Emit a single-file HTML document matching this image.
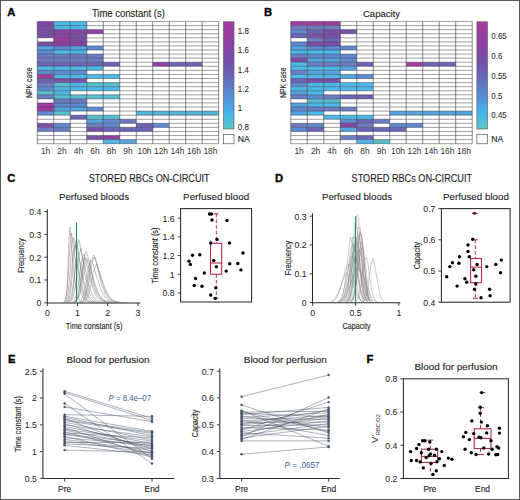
<!DOCTYPE html>
<html><head><meta charset="utf-8"><style>
html,body{margin:0;padding:0;background:#fff;}
svg{display:block;font-family:"Liberation Sans", sans-serif;}
</style></head><body>
<svg width="520" height="500" viewBox="0 0 520 500">
<rect x="0" y="0" width="520" height="500" fill="#fff"/>
<text x="7.20" y="16.40" font-size="11.2" text-anchor="start" fill="#000" stroke="#000" stroke-width="0.35" font-weight="bold" >A</text>
<text x="128.40" y="16.80" font-size="10.200000000000001" text-anchor="middle" fill="#222222" stroke="#222222" stroke-width="0.12" font-weight="normal" textLength="73" lengthAdjust="spacingAndGlyphs" >Time constant (s)</text>
<rect x="37.30" y="21.50" width="16.49" height="4.073" fill="#8c42a4"/>
<rect x="53.79" y="21.50" width="16.49" height="4.073" fill="#4cb9e8"/>
<rect x="70.28" y="21.50" width="16.49" height="4.073" fill="#4cb9e8"/>
<rect x="37.30" y="25.57" width="16.49" height="4.073" fill="#7c4ea8"/>
<rect x="53.79" y="25.57" width="16.49" height="4.073" fill="#4cb9e8"/>
<rect x="70.28" y="25.57" width="16.49" height="4.073" fill="#4cb9e8"/>
<rect x="37.30" y="29.65" width="16.49" height="4.073" fill="#7c4ea8"/>
<rect x="53.79" y="29.65" width="16.49" height="4.073" fill="#8c42a4"/>
<rect x="70.28" y="29.65" width="16.49" height="4.073" fill="#8c42a4"/>
<rect x="86.77" y="29.65" width="16.49" height="4.073" fill="#8c42a4"/>
<rect x="37.30" y="33.72" width="16.49" height="4.073" fill="#7c4ea8"/>
<rect x="53.79" y="33.72" width="16.49" height="4.073" fill="#8c42a4"/>
<rect x="70.28" y="33.72" width="16.49" height="4.073" fill="#7c4ea8"/>
<rect x="53.79" y="37.79" width="16.49" height="4.073" fill="#a23c9e"/>
<rect x="70.28" y="37.79" width="16.49" height="4.073" fill="#7c4ea8"/>
<rect x="37.30" y="41.87" width="16.49" height="4.073" fill="#7c4ea8"/>
<rect x="53.79" y="41.87" width="16.49" height="4.073" fill="#8c42a4"/>
<rect x="70.28" y="41.87" width="16.49" height="4.073" fill="#8c42a4"/>
<rect x="37.30" y="45.94" width="16.49" height="4.073" fill="#54a4de"/>
<rect x="53.79" y="45.94" width="16.49" height="4.073" fill="#5e8ad2"/>
<rect x="70.28" y="45.94" width="16.49" height="4.073" fill="#54a4de"/>
<rect x="86.77" y="45.94" width="16.49" height="4.073" fill="#5e8ad2"/>
<rect x="37.30" y="50.01" width="16.49" height="4.073" fill="#5e8ad2"/>
<rect x="53.79" y="50.01" width="16.49" height="4.073" fill="#4cb9e8"/>
<rect x="70.28" y="50.01" width="16.49" height="4.073" fill="#4cb9e8"/>
<rect x="37.30" y="54.08" width="16.49" height="4.073" fill="#6e7cc4"/>
<rect x="53.79" y="54.08" width="16.49" height="4.073" fill="#6e7cc4"/>
<rect x="70.28" y="54.08" width="16.49" height="4.073" fill="#6e7cc4"/>
<rect x="86.77" y="54.08" width="16.49" height="4.073" fill="#6e7cc4"/>
<rect x="37.30" y="58.16" width="16.49" height="4.073" fill="#6e7cc4"/>
<rect x="53.79" y="58.16" width="16.49" height="4.073" fill="#6e7cc4"/>
<rect x="70.28" y="58.16" width="16.49" height="4.073" fill="#6e7cc4"/>
<rect x="86.77" y="58.16" width="16.49" height="4.073" fill="#6e7cc4"/>
<rect x="37.30" y="62.23" width="16.49" height="4.073" fill="#6c64b6"/>
<rect x="53.79" y="62.23" width="16.49" height="4.073" fill="#6c64b6"/>
<rect x="70.28" y="62.23" width="16.49" height="4.073" fill="#6c64b6"/>
<rect x="86.77" y="62.23" width="16.49" height="4.073" fill="#6c64b6"/>
<rect x="103.26" y="62.23" width="16.49" height="4.073" fill="#6c64b6"/>
<rect x="152.73" y="62.23" width="16.49" height="4.073" fill="#8c42a4"/>
<rect x="169.22" y="62.23" width="16.49" height="4.073" fill="#6c64b6"/>
<rect x="185.71" y="62.23" width="16.49" height="4.073" fill="#6c64b6"/>
<rect x="37.30" y="66.30" width="16.49" height="4.073" fill="#4cb9e8"/>
<rect x="53.79" y="66.30" width="16.49" height="4.073" fill="#4cb9e8"/>
<rect x="70.28" y="66.30" width="16.49" height="4.073" fill="#4cb9e8"/>
<rect x="86.77" y="66.30" width="16.49" height="4.073" fill="#4cb9e8"/>
<rect x="37.30" y="70.38" width="16.49" height="4.073" fill="#5e8ad2"/>
<rect x="53.79" y="70.38" width="16.49" height="4.073" fill="#5e8ad2"/>
<rect x="70.28" y="70.38" width="16.49" height="4.073" fill="#5e8ad2"/>
<rect x="37.30" y="74.45" width="16.49" height="4.073" fill="#a23c9e"/>
<rect x="53.79" y="74.45" width="16.49" height="4.073" fill="#4cb9e8"/>
<rect x="70.28" y="74.45" width="16.49" height="4.073" fill="#4cb9e8"/>
<rect x="86.77" y="74.45" width="16.49" height="4.073" fill="#4cb9e8"/>
<rect x="103.26" y="74.45" width="16.49" height="4.073" fill="#4cb9e8"/>
<rect x="37.30" y="78.52" width="16.49" height="4.073" fill="#6c64b6"/>
<rect x="53.79" y="78.52" width="16.49" height="4.073" fill="#7c4ea8"/>
<rect x="70.28" y="78.52" width="16.49" height="4.073" fill="#7c4ea8"/>
<rect x="37.30" y="82.59" width="16.49" height="4.073" fill="#6e7cc4"/>
<rect x="53.79" y="82.59" width="16.49" height="4.073" fill="#58c0cc"/>
<rect x="70.28" y="82.59" width="16.49" height="4.073" fill="#4cb9e8"/>
<rect x="86.77" y="82.59" width="16.49" height="4.073" fill="#58c0cc"/>
<rect x="103.26" y="82.59" width="16.49" height="4.073" fill="#58c0cc"/>
<rect x="37.30" y="86.67" width="16.49" height="4.073" fill="#5e8ad2"/>
<rect x="53.79" y="86.67" width="16.49" height="4.073" fill="#4cb9e8"/>
<rect x="70.28" y="86.67" width="16.49" height="4.073" fill="#4cb9e8"/>
<rect x="86.77" y="86.67" width="16.49" height="4.073" fill="#4cb9e8"/>
<rect x="103.26" y="86.67" width="16.49" height="4.073" fill="#4cb9e8"/>
<rect x="37.30" y="90.74" width="16.49" height="4.073" fill="#58c0cc"/>
<rect x="53.79" y="90.74" width="16.49" height="4.073" fill="#4cb9e8"/>
<rect x="37.30" y="94.81" width="16.49" height="4.073" fill="#6e7cc4"/>
<rect x="53.79" y="94.81" width="16.49" height="4.073" fill="#58c0cc"/>
<rect x="70.28" y="94.81" width="16.49" height="4.073" fill="#58c0cc"/>
<rect x="86.77" y="94.81" width="16.49" height="4.073" fill="#58c0cc"/>
<rect x="103.26" y="94.81" width="16.49" height="4.073" fill="#58c0cc"/>
<rect x="53.79" y="98.89" width="16.49" height="4.073" fill="#6e7cc4"/>
<rect x="70.28" y="98.89" width="16.49" height="4.073" fill="#6e7cc4"/>
<rect x="37.30" y="102.96" width="16.49" height="4.073" fill="#a23c9e"/>
<rect x="53.79" y="102.96" width="16.49" height="4.073" fill="#5e8ad2"/>
<rect x="70.28" y="102.96" width="16.49" height="4.073" fill="#5e8ad2"/>
<rect x="37.30" y="107.03" width="16.49" height="4.073" fill="#a23c9e"/>
<rect x="53.79" y="107.03" width="16.49" height="4.073" fill="#54a4de"/>
<rect x="70.28" y="107.03" width="16.49" height="4.073" fill="#54a4de"/>
<rect x="86.77" y="107.03" width="16.49" height="4.073" fill="#5e8ad2"/>
<rect x="37.30" y="111.11" width="16.49" height="4.073" fill="#5e8ad2"/>
<rect x="53.79" y="111.11" width="16.49" height="4.073" fill="#58c0cc"/>
<rect x="136.24" y="111.11" width="16.49" height="4.073" fill="#55b6da"/>
<rect x="152.73" y="111.11" width="16.49" height="4.073" fill="#55b6da"/>
<rect x="169.22" y="111.11" width="16.49" height="4.073" fill="#55b6da"/>
<rect x="185.71" y="111.11" width="16.49" height="4.073" fill="#55b6da"/>
<rect x="202.20" y="111.11" width="16.49" height="4.073" fill="#55b6da"/>
<rect x="70.28" y="115.18" width="16.49" height="4.073" fill="#6c64b6"/>
<rect x="86.77" y="115.18" width="16.49" height="4.073" fill="#58c0cc"/>
<rect x="103.26" y="115.18" width="16.49" height="4.073" fill="#58c0cc"/>
<rect x="86.77" y="119.25" width="16.49" height="4.073" fill="#54a4de"/>
<rect x="103.26" y="119.25" width="16.49" height="4.073" fill="#5e8ad2"/>
<rect x="119.75" y="119.25" width="16.49" height="4.073" fill="#6e7cc4"/>
<rect x="37.30" y="123.33" width="16.49" height="4.073" fill="#7c4ea8"/>
<rect x="53.79" y="123.33" width="16.49" height="4.073" fill="#5e8ad2"/>
<rect x="86.77" y="123.33" width="16.49" height="4.073" fill="#6e7cc4"/>
<rect x="103.26" y="123.33" width="16.49" height="4.073" fill="#5e8ad2"/>
<rect x="136.24" y="123.33" width="16.49" height="4.073" fill="#6c64b6"/>
<rect x="152.73" y="123.33" width="16.49" height="4.073" fill="#5e8ad2"/>
<rect x="37.30" y="127.40" width="16.49" height="4.073" fill="#6e7cc4"/>
<rect x="53.79" y="127.40" width="16.49" height="4.073" fill="#6e7cc4"/>
<rect x="86.77" y="127.40" width="16.49" height="4.073" fill="#7c4ea8"/>
<rect x="103.26" y="127.40" width="16.49" height="4.073" fill="#6c64b6"/>
<rect x="119.75" y="127.40" width="16.49" height="4.073" fill="#6c64b6"/>
<rect x="136.24" y="127.40" width="16.49" height="4.073" fill="#6c64b6"/>
<rect x="86.77" y="135.54" width="16.49" height="4.073" fill="#7c4ea8"/>
<rect x="103.26" y="135.54" width="16.49" height="4.073" fill="#8c42a4"/>
<rect x="103.26" y="139.62" width="16.49" height="4.073" fill="#4cb9e8"/>
<rect x="119.75" y="139.62" width="16.49" height="4.073" fill="#54a4de"/>
<path d="M37.30 21.50H218.69 M37.30 25.57H218.69 M37.30 29.65H218.69 M37.30 33.72H218.69 M37.30 37.79H218.69 M37.30 41.87H218.69 M37.30 45.94H218.69 M37.30 50.01H218.69 M37.30 54.08H218.69 M37.30 58.16H218.69 M37.30 62.23H218.69 M37.30 66.30H218.69 M37.30 70.38H218.69 M37.30 74.45H218.69 M37.30 78.52H218.69 M37.30 82.59H218.69 M37.30 86.67H218.69 M37.30 90.74H218.69 M37.30 94.81H218.69 M37.30 98.89H218.69 M37.30 102.96H218.69 M37.30 107.03H218.69 M37.30 111.11H218.69 M37.30 115.18H218.69 M37.30 119.25H218.69 M37.30 123.33H218.69 M37.30 127.40H218.69 M37.30 131.47H218.69 M37.30 135.54H218.69 M37.30 139.62H218.69 M37.30 143.69H218.69" stroke="#2a2a38" stroke-width="0.45" fill="none"/>
<path d="M37.30 21.50V143.69 M53.79 21.50V143.69 M70.28 21.50V143.69 M86.77 21.50V143.69 M103.26 21.50V143.69 M119.75 21.50V143.69 M136.24 21.50V143.69 M152.73 21.50V143.69 M169.22 21.50V143.69 M185.71 21.50V143.69 M202.20 21.50V143.69 M218.69 21.50V143.69" stroke="#3a3a3a" stroke-width="0.6" fill="none"/>
<text x="45.54" y="153.70" font-size="8.4" text-anchor="middle" fill="#333" stroke="#333" stroke-width="0.03" font-weight="normal" >1h</text>
<text x="62.03" y="153.70" font-size="8.4" text-anchor="middle" fill="#333" stroke="#333" stroke-width="0.03" font-weight="normal" >2h</text>
<text x="78.52" y="153.70" font-size="8.4" text-anchor="middle" fill="#333" stroke="#333" stroke-width="0.03" font-weight="normal" >4h</text>
<text x="95.01" y="153.70" font-size="8.4" text-anchor="middle" fill="#333" stroke="#333" stroke-width="0.03" font-weight="normal" >6h</text>
<text x="111.50" y="153.70" font-size="8.4" text-anchor="middle" fill="#333" stroke="#333" stroke-width="0.03" font-weight="normal" >8h</text>
<text x="127.99" y="153.70" font-size="8.4" text-anchor="middle" fill="#333" stroke="#333" stroke-width="0.03" font-weight="normal" >9h</text>
<text x="144.48" y="153.70" font-size="8.4" text-anchor="middle" fill="#333" stroke="#333" stroke-width="0.03" font-weight="normal" >10h</text>
<text x="160.97" y="153.70" font-size="8.4" text-anchor="middle" fill="#333" stroke="#333" stroke-width="0.03" font-weight="normal" >12h</text>
<text x="177.46" y="153.70" font-size="8.4" text-anchor="middle" fill="#333" stroke="#333" stroke-width="0.03" font-weight="normal" >14h</text>
<text x="193.95" y="153.70" font-size="8.4" text-anchor="middle" fill="#333" stroke="#333" stroke-width="0.03" font-weight="normal" >16h</text>
<text x="210.44" y="153.70" font-size="8.4" text-anchor="middle" fill="#333" stroke="#333" stroke-width="0.03" font-weight="normal" >18h</text>
<text transform="translate(32.30 82.70) rotate(-90)" x="0" y="0" font-size="9.6" text-anchor="middle" fill="#222222" stroke="#222222" stroke-width="0.12" textLength="30.5" lengthAdjust="spacingAndGlyphs">NPK case</text>
<defs><linearGradient id="cbA" x1="0" y1="0" x2="0" y2="1"><stop offset="0" stop-color="#a63a9e"/><stop offset="0.2" stop-color="#8e40a4"/><stop offset="0.38" stop-color="#7450aa"/><stop offset="0.55" stop-color="#6470bc"/><stop offset="0.7" stop-color="#5590d6"/><stop offset="0.85" stop-color="#42b6e8"/><stop offset="1" stop-color="#62c4c6"/></linearGradient></defs>
<rect x="223.40" y="21.8" width="10.6" height="107.2" fill="url(#cbA)" stroke="#555" stroke-width="0.6"/>
<rect x="223.40" y="134.6" width="10.6" height="9.2" fill="#fff" stroke="#3a3a3a" stroke-width="0.6"/>
<text x="237.80" y="34.10" font-size="8.7" text-anchor="start" fill="#222222" stroke="#222222" stroke-width="0.05" font-weight="normal" textLength="10.98" lengthAdjust="spacingAndGlyphs" >1.8</text>
<text x="237.80" y="53.30" font-size="8.7" text-anchor="start" fill="#222222" stroke="#222222" stroke-width="0.05" font-weight="normal" textLength="10.98" lengthAdjust="spacingAndGlyphs" >1.6</text>
<text x="237.80" y="72.50" font-size="8.7" text-anchor="start" fill="#222222" stroke="#222222" stroke-width="0.05" font-weight="normal" textLength="10.98" lengthAdjust="spacingAndGlyphs" >1.4</text>
<text x="237.80" y="91.70" font-size="8.7" text-anchor="start" fill="#222222" stroke="#222222" stroke-width="0.05" font-weight="normal" textLength="10.98" lengthAdjust="spacingAndGlyphs" >1.2</text>
<text x="237.80" y="110.90" font-size="8.7" text-anchor="start" fill="#222222" stroke="#222222" stroke-width="0.05" font-weight="normal" textLength="4.39" lengthAdjust="spacingAndGlyphs" >1</text>
<text x="237.80" y="130.10" font-size="8.7" text-anchor="start" fill="#222222" stroke="#222222" stroke-width="0.05" font-weight="normal" textLength="10.98" lengthAdjust="spacingAndGlyphs" >0.8</text>
<text x="237.70" y="141.80" font-size="8.6" text-anchor="start" fill="#222222" stroke="#222222" stroke-width="0.12" font-weight="normal" >NA</text>
<text x="264.10" y="16.40" font-size="11.2" text-anchor="start" fill="#000" stroke="#000" stroke-width="0.35" font-weight="bold" >B</text>
<text x="381.50" y="16.60" font-size="9.9" text-anchor="middle" fill="#222222" stroke="#222222" stroke-width="0.12" font-weight="normal" textLength="37" lengthAdjust="spacingAndGlyphs" >Capacity</text>
<rect x="290.80" y="21.50" width="16.49" height="4.073" fill="#a23c9e"/>
<rect x="307.29" y="21.50" width="16.49" height="4.073" fill="#a23c9e"/>
<rect x="323.78" y="21.50" width="16.49" height="4.073" fill="#a23c9e"/>
<rect x="290.80" y="25.57" width="16.49" height="4.073" fill="#6e7cc4"/>
<rect x="307.29" y="25.57" width="16.49" height="4.073" fill="#6e7cc4"/>
<rect x="323.78" y="25.57" width="16.49" height="4.073" fill="#6e7cc4"/>
<rect x="290.80" y="29.65" width="16.49" height="4.073" fill="#5e8ad2"/>
<rect x="307.29" y="29.65" width="16.49" height="4.073" fill="#6c64b6"/>
<rect x="323.78" y="29.65" width="16.49" height="4.073" fill="#7c4ea8"/>
<rect x="340.27" y="29.65" width="16.49" height="4.073" fill="#7c4ea8"/>
<rect x="290.80" y="33.72" width="16.49" height="4.073" fill="#6c64b6"/>
<rect x="307.29" y="33.72" width="16.49" height="4.073" fill="#7c4ea8"/>
<rect x="323.78" y="33.72" width="16.49" height="4.073" fill="#7c4ea8"/>
<rect x="307.29" y="37.79" width="16.49" height="4.073" fill="#6e7cc4"/>
<rect x="323.78" y="37.79" width="16.49" height="4.073" fill="#6c64b6"/>
<rect x="290.80" y="41.87" width="16.49" height="4.073" fill="#5e8ad2"/>
<rect x="307.29" y="41.87" width="16.49" height="4.073" fill="#7c4ea8"/>
<rect x="323.78" y="41.87" width="16.49" height="4.073" fill="#7c4ea8"/>
<rect x="290.80" y="45.94" width="16.49" height="4.073" fill="#54a4de"/>
<rect x="307.29" y="45.94" width="16.49" height="4.073" fill="#5e8ad2"/>
<rect x="323.78" y="45.94" width="16.49" height="4.073" fill="#5e8ad2"/>
<rect x="340.27" y="45.94" width="16.49" height="4.073" fill="#5e8ad2"/>
<rect x="290.80" y="50.01" width="16.49" height="4.073" fill="#4cb9e8"/>
<rect x="307.29" y="50.01" width="16.49" height="4.073" fill="#4cb9e8"/>
<rect x="323.78" y="50.01" width="16.49" height="4.073" fill="#4cb9e8"/>
<rect x="290.80" y="54.08" width="16.49" height="4.073" fill="#6e7cc4"/>
<rect x="307.29" y="54.08" width="16.49" height="4.073" fill="#5e8ad2"/>
<rect x="323.78" y="54.08" width="16.49" height="4.073" fill="#5e8ad2"/>
<rect x="340.27" y="54.08" width="16.49" height="4.073" fill="#5e8ad2"/>
<rect x="290.80" y="58.16" width="16.49" height="4.073" fill="#7c4ea8"/>
<rect x="307.29" y="58.16" width="16.49" height="4.073" fill="#54a4de"/>
<rect x="323.78" y="58.16" width="16.49" height="4.073" fill="#54a4de"/>
<rect x="340.27" y="58.16" width="16.49" height="4.073" fill="#5e8ad2"/>
<rect x="290.80" y="62.23" width="16.49" height="4.073" fill="#4cb9e8"/>
<rect x="307.29" y="62.23" width="16.49" height="4.073" fill="#6e7cc4"/>
<rect x="323.78" y="62.23" width="16.49" height="4.073" fill="#6e7cc4"/>
<rect x="340.27" y="62.23" width="16.49" height="4.073" fill="#6e7cc4"/>
<rect x="356.76" y="62.23" width="16.49" height="4.073" fill="#6c64b6"/>
<rect x="406.23" y="62.23" width="16.49" height="4.073" fill="#a23c9e"/>
<rect x="422.72" y="62.23" width="16.49" height="4.073" fill="#6c64b6"/>
<rect x="439.21" y="62.23" width="16.49" height="4.073" fill="#6c64b6"/>
<rect x="290.80" y="66.30" width="16.49" height="4.073" fill="#4cb9e8"/>
<rect x="307.29" y="66.30" width="16.49" height="4.073" fill="#4cb9e8"/>
<rect x="323.78" y="66.30" width="16.49" height="4.073" fill="#4cb9e8"/>
<rect x="340.27" y="66.30" width="16.49" height="4.073" fill="#54a4de"/>
<rect x="290.80" y="70.38" width="16.49" height="4.073" fill="#6e7cc4"/>
<rect x="307.29" y="70.38" width="16.49" height="4.073" fill="#54a4de"/>
<rect x="323.78" y="70.38" width="16.49" height="4.073" fill="#54a4de"/>
<rect x="290.80" y="74.45" width="16.49" height="4.073" fill="#4cb9e8"/>
<rect x="307.29" y="74.45" width="16.49" height="4.073" fill="#4cb9e8"/>
<rect x="323.78" y="74.45" width="16.49" height="4.073" fill="#4cb9e8"/>
<rect x="340.27" y="74.45" width="16.49" height="4.073" fill="#54a4de"/>
<rect x="356.76" y="74.45" width="16.49" height="4.073" fill="#5e8ad2"/>
<rect x="290.80" y="78.52" width="16.49" height="4.073" fill="#6c64b6"/>
<rect x="307.29" y="78.52" width="16.49" height="4.073" fill="#7c4ea8"/>
<rect x="323.78" y="78.52" width="16.49" height="4.073" fill="#7c4ea8"/>
<rect x="290.80" y="82.59" width="16.49" height="4.073" fill="#5e8ad2"/>
<rect x="307.29" y="82.59" width="16.49" height="4.073" fill="#4cb9e8"/>
<rect x="323.78" y="82.59" width="16.49" height="4.073" fill="#4cb9e8"/>
<rect x="340.27" y="82.59" width="16.49" height="4.073" fill="#4cb9e8"/>
<rect x="356.76" y="82.59" width="16.49" height="4.073" fill="#4cb9e8"/>
<rect x="290.80" y="86.67" width="16.49" height="4.073" fill="#4cb9e8"/>
<rect x="307.29" y="86.67" width="16.49" height="4.073" fill="#4cb9e8"/>
<rect x="323.78" y="86.67" width="16.49" height="4.073" fill="#4cb9e8"/>
<rect x="340.27" y="86.67" width="16.49" height="4.073" fill="#4cb9e8"/>
<rect x="356.76" y="86.67" width="16.49" height="4.073" fill="#4cb9e8"/>
<rect x="290.80" y="90.74" width="16.49" height="4.073" fill="#54a4de"/>
<rect x="307.29" y="90.74" width="16.49" height="4.073" fill="#4cb9e8"/>
<rect x="290.80" y="94.81" width="16.49" height="4.073" fill="#6e7cc4"/>
<rect x="307.29" y="94.81" width="16.49" height="4.073" fill="#5e8ad2"/>
<rect x="323.78" y="94.81" width="16.49" height="4.073" fill="#6e7cc4"/>
<rect x="340.27" y="94.81" width="16.49" height="4.073" fill="#6c64b6"/>
<rect x="356.76" y="94.81" width="16.49" height="4.073" fill="#6c64b6"/>
<rect x="307.29" y="98.89" width="16.49" height="4.073" fill="#58c0cc"/>
<rect x="323.78" y="98.89" width="16.49" height="4.073" fill="#58c0cc"/>
<rect x="290.80" y="102.96" width="16.49" height="4.073" fill="#54a4de"/>
<rect x="307.29" y="102.96" width="16.49" height="4.073" fill="#4cb9e8"/>
<rect x="323.78" y="102.96" width="16.49" height="4.073" fill="#4cb9e8"/>
<rect x="290.80" y="107.03" width="16.49" height="4.073" fill="#5e8ad2"/>
<rect x="307.29" y="107.03" width="16.49" height="4.073" fill="#6e7cc4"/>
<rect x="323.78" y="107.03" width="16.49" height="4.073" fill="#6e7cc4"/>
<rect x="340.27" y="107.03" width="16.49" height="4.073" fill="#6e7cc4"/>
<rect x="290.80" y="111.11" width="16.49" height="4.073" fill="#54a4de"/>
<rect x="307.29" y="111.11" width="16.49" height="4.073" fill="#4cb9e8"/>
<rect x="389.74" y="111.11" width="16.49" height="4.073" fill="#54a4de"/>
<rect x="406.23" y="111.11" width="16.49" height="4.073" fill="#54a4de"/>
<rect x="422.72" y="111.11" width="16.49" height="4.073" fill="#54a4de"/>
<rect x="439.21" y="111.11" width="16.49" height="4.073" fill="#54a4de"/>
<rect x="455.70" y="111.11" width="16.49" height="4.073" fill="#54a4de"/>
<rect x="323.78" y="115.18" width="16.49" height="4.073" fill="#4cb9e8"/>
<rect x="340.27" y="115.18" width="16.49" height="4.073" fill="#4cb9e8"/>
<rect x="356.76" y="115.18" width="16.49" height="4.073" fill="#4cb9e8"/>
<rect x="340.27" y="119.25" width="16.49" height="4.073" fill="#5e8ad2"/>
<rect x="356.76" y="119.25" width="16.49" height="4.073" fill="#6c64b6"/>
<rect x="373.25" y="119.25" width="16.49" height="4.073" fill="#6e7cc4"/>
<rect x="290.80" y="123.33" width="16.49" height="4.073" fill="#6e7cc4"/>
<rect x="307.29" y="123.33" width="16.49" height="4.073" fill="#5e8ad2"/>
<rect x="340.27" y="123.33" width="16.49" height="4.073" fill="#8c42a4"/>
<rect x="356.76" y="123.33" width="16.49" height="4.073" fill="#6e7cc4"/>
<rect x="389.74" y="123.33" width="16.49" height="4.073" fill="#5e8ad2"/>
<rect x="406.23" y="123.33" width="16.49" height="4.073" fill="#5e8ad2"/>
<rect x="290.80" y="127.40" width="16.49" height="4.073" fill="#5e8ad2"/>
<rect x="307.29" y="127.40" width="16.49" height="4.073" fill="#6c64b6"/>
<rect x="340.27" y="127.40" width="16.49" height="4.073" fill="#54a4de"/>
<rect x="356.76" y="127.40" width="16.49" height="4.073" fill="#6c64b6"/>
<rect x="373.25" y="127.40" width="16.49" height="4.073" fill="#6c64b6"/>
<rect x="389.74" y="127.40" width="16.49" height="4.073" fill="#6c64b6"/>
<rect x="340.27" y="135.54" width="16.49" height="4.073" fill="#6e7cc4"/>
<rect x="356.76" y="135.54" width="16.49" height="4.073" fill="#6c64b6"/>
<rect x="356.76" y="139.62" width="16.49" height="4.073" fill="#4cb9e8"/>
<rect x="373.25" y="139.62" width="16.49" height="4.073" fill="#58c0cc"/>
<path d="M290.80 21.50H472.19 M290.80 25.57H472.19 M290.80 29.65H472.19 M290.80 33.72H472.19 M290.80 37.79H472.19 M290.80 41.87H472.19 M290.80 45.94H472.19 M290.80 50.01H472.19 M290.80 54.08H472.19 M290.80 58.16H472.19 M290.80 62.23H472.19 M290.80 66.30H472.19 M290.80 70.38H472.19 M290.80 74.45H472.19 M290.80 78.52H472.19 M290.80 82.59H472.19 M290.80 86.67H472.19 M290.80 90.74H472.19 M290.80 94.81H472.19 M290.80 98.89H472.19 M290.80 102.96H472.19 M290.80 107.03H472.19 M290.80 111.11H472.19 M290.80 115.18H472.19 M290.80 119.25H472.19 M290.80 123.33H472.19 M290.80 127.40H472.19 M290.80 131.47H472.19 M290.80 135.54H472.19 M290.80 139.62H472.19 M290.80 143.69H472.19" stroke="#2a2a38" stroke-width="0.45" fill="none"/>
<path d="M290.80 21.50V143.69 M307.29 21.50V143.69 M323.78 21.50V143.69 M340.27 21.50V143.69 M356.76 21.50V143.69 M373.25 21.50V143.69 M389.74 21.50V143.69 M406.23 21.50V143.69 M422.72 21.50V143.69 M439.21 21.50V143.69 M455.70 21.50V143.69 M472.19 21.50V143.69" stroke="#3a3a3a" stroke-width="0.6" fill="none"/>
<text x="299.05" y="153.70" font-size="8.4" text-anchor="middle" fill="#333" stroke="#333" stroke-width="0.03" font-weight="normal" >1h</text>
<text x="315.54" y="153.70" font-size="8.4" text-anchor="middle" fill="#333" stroke="#333" stroke-width="0.03" font-weight="normal" >2h</text>
<text x="332.02" y="153.70" font-size="8.4" text-anchor="middle" fill="#333" stroke="#333" stroke-width="0.03" font-weight="normal" >4h</text>
<text x="348.51" y="153.70" font-size="8.4" text-anchor="middle" fill="#333" stroke="#333" stroke-width="0.03" font-weight="normal" >6h</text>
<text x="365.00" y="153.70" font-size="8.4" text-anchor="middle" fill="#333" stroke="#333" stroke-width="0.03" font-weight="normal" >8h</text>
<text x="381.50" y="153.70" font-size="8.4" text-anchor="middle" fill="#333" stroke="#333" stroke-width="0.03" font-weight="normal" >9h</text>
<text x="397.99" y="153.70" font-size="8.4" text-anchor="middle" fill="#333" stroke="#333" stroke-width="0.03" font-weight="normal" >10h</text>
<text x="414.48" y="153.70" font-size="8.4" text-anchor="middle" fill="#333" stroke="#333" stroke-width="0.03" font-weight="normal" >12h</text>
<text x="430.97" y="153.70" font-size="8.4" text-anchor="middle" fill="#333" stroke="#333" stroke-width="0.03" font-weight="normal" >14h</text>
<text x="447.45" y="153.70" font-size="8.4" text-anchor="middle" fill="#333" stroke="#333" stroke-width="0.03" font-weight="normal" >16h</text>
<text x="463.94" y="153.70" font-size="8.4" text-anchor="middle" fill="#333" stroke="#333" stroke-width="0.03" font-weight="normal" >18h</text>
<text transform="translate(285.80 82.70) rotate(-90)" x="0" y="0" font-size="9.6" text-anchor="middle" fill="#222222" stroke="#222222" stroke-width="0.12" textLength="30.5" lengthAdjust="spacingAndGlyphs">NPK case</text>
<defs><linearGradient id="cbB" x1="0" y1="0" x2="0" y2="1"><stop offset="0" stop-color="#a63a9e"/><stop offset="0.2" stop-color="#8e40a4"/><stop offset="0.38" stop-color="#7450aa"/><stop offset="0.55" stop-color="#6470bc"/><stop offset="0.7" stop-color="#5590d6"/><stop offset="0.85" stop-color="#42b6e8"/><stop offset="1" stop-color="#62c4c6"/></linearGradient></defs>
<rect x="476.90" y="21.8" width="10.6" height="107.2" fill="url(#cbB)" stroke="#555" stroke-width="0.6"/>
<rect x="476.90" y="134.6" width="10.6" height="9.2" fill="#fff" stroke="#3a3a3a" stroke-width="0.6"/>
<text x="491.30" y="39.40" font-size="8.7" text-anchor="start" fill="#222222" stroke="#222222" stroke-width="0.05" font-weight="normal" textLength="15.37" lengthAdjust="spacingAndGlyphs" >0.65</text>
<text x="491.30" y="59.10" font-size="8.7" text-anchor="start" fill="#222222" stroke="#222222" stroke-width="0.05" font-weight="normal" textLength="10.98" lengthAdjust="spacingAndGlyphs" >0.6</text>
<text x="491.30" y="78.80" font-size="8.7" text-anchor="start" fill="#222222" stroke="#222222" stroke-width="0.05" font-weight="normal" textLength="15.37" lengthAdjust="spacingAndGlyphs" >0.55</text>
<text x="491.30" y="98.50" font-size="8.7" text-anchor="start" fill="#222222" stroke="#222222" stroke-width="0.05" font-weight="normal" textLength="10.98" lengthAdjust="spacingAndGlyphs" >0.5</text>
<text x="491.30" y="118.20" font-size="8.7" text-anchor="start" fill="#222222" stroke="#222222" stroke-width="0.05" font-weight="normal" textLength="15.37" lengthAdjust="spacingAndGlyphs" >0.45</text>
<text x="491.20" y="141.80" font-size="8.6" text-anchor="start" fill="#222222" stroke="#222222" stroke-width="0.12" font-weight="normal" >NA</text>
<text x="7.30" y="181.90" font-size="11.2" text-anchor="start" fill="#000" stroke="#000" stroke-width="0.35" font-weight="bold" >C</text>
<text x="149.20" y="181.60" font-size="10.2" text-anchor="middle" fill="#222222" stroke="#222222" stroke-width="0.12" font-weight="normal" textLength="121" lengthAdjust="spacingAndGlyphs" >STORED RBCs ON-CIRCUIT</text>
<text x="94.00" y="199.50" font-size="9.9" text-anchor="middle" fill="#222222" stroke="#222222" stroke-width="0.12" font-weight="normal" textLength="70" lengthAdjust="spacingAndGlyphs" >Perfused bloods</text>
<text x="216.10" y="199.50" font-size="9.9" text-anchor="middle" fill="#222222" stroke="#222222" stroke-width="0.12" font-weight="normal" textLength="66" lengthAdjust="spacingAndGlyphs" >Perfused blood</text>
<path d="M47.3 209.3V303.0H140.2" stroke="#2a2a2a" stroke-width="1.05" fill="none"/>
<path d="M44.30 302.80H47.30" stroke="#2a2a2a" stroke-width="0.9"/>
<text x="41.30" y="306.10" font-size="9.4" text-anchor="end" fill="#222222" stroke="#222222" stroke-width="0.04" font-weight="normal" textLength="4.84" lengthAdjust="spacingAndGlyphs" >0</text>
<path d="M44.30 280.00H47.30" stroke="#2a2a2a" stroke-width="0.9"/>
<text x="41.30" y="283.30" font-size="9.4" text-anchor="end" fill="#222222" stroke="#222222" stroke-width="0.04" font-weight="normal" textLength="12.09" lengthAdjust="spacingAndGlyphs" >0.1</text>
<path d="M44.30 257.20H47.30" stroke="#2a2a2a" stroke-width="0.9"/>
<text x="41.30" y="260.50" font-size="9.4" text-anchor="end" fill="#222222" stroke="#222222" stroke-width="0.04" font-weight="normal" textLength="12.09" lengthAdjust="spacingAndGlyphs" >0.2</text>
<path d="M44.30 234.40H47.30" stroke="#2a2a2a" stroke-width="0.9"/>
<text x="41.30" y="237.70" font-size="9.4" text-anchor="end" fill="#222222" stroke="#222222" stroke-width="0.04" font-weight="normal" textLength="12.09" lengthAdjust="spacingAndGlyphs" >0.3</text>
<path d="M44.30 211.60H47.30" stroke="#2a2a2a" stroke-width="0.9"/>
<text x="41.30" y="214.90" font-size="9.4" text-anchor="end" fill="#222222" stroke="#222222" stroke-width="0.04" font-weight="normal" textLength="12.09" lengthAdjust="spacingAndGlyphs" >0.4</text>
<path d="M47.30 303.00V306.00" stroke="#2a2a2a" stroke-width="0.9"/>
<text x="47.30" y="316.30" font-size="9.4" text-anchor="middle" fill="#222222" stroke="#222222" stroke-width="0.04" font-weight="normal" textLength="4.84" lengthAdjust="spacingAndGlyphs" >0</text>
<path d="M77.50 303.00V306.00" stroke="#2a2a2a" stroke-width="0.9"/>
<text x="77.50" y="316.30" font-size="9.4" text-anchor="middle" fill="#222222" stroke="#222222" stroke-width="0.04" font-weight="normal" textLength="4.84" lengthAdjust="spacingAndGlyphs" >1</text>
<path d="M107.60 303.00V306.00" stroke="#2a2a2a" stroke-width="0.9"/>
<text x="107.60" y="316.30" font-size="9.4" text-anchor="middle" fill="#222222" stroke="#222222" stroke-width="0.04" font-weight="normal" textLength="4.84" lengthAdjust="spacingAndGlyphs" >2</text>
<path d="M137.90 303.00V306.00" stroke="#2a2a2a" stroke-width="0.9"/>
<text x="137.90" y="316.30" font-size="9.4" text-anchor="middle" fill="#222222" stroke="#222222" stroke-width="0.04" font-weight="normal" textLength="4.84" lengthAdjust="spacingAndGlyphs" >3</text>
<path d="M64.73 302.56 L65.79 300.74 L66.85 291.74 L67.91 269.12 L68.97 238.06 L70.03 227.16 L71.09 239.58 L72.16 251.40 L73.22 264.17 L74.28 275.10 L75.34 285.06 L76.40 291.05 L77.46 295.55 L78.52 298.13 L79.58 300.08 L80.64 301.32 L81.70 301.92 L82.76 302.32 L83.82 302.55 L84.88 302.67 L85.94 302.74 M62.91 302.59 L63.97 302.00 L65.03 300.37 L66.10 296.28 L67.16 288.17 L68.22 275.68 L69.28 258.10 L70.34 242.93 L71.40 232.84 L72.46 237.66 L73.52 244.75 L74.58 254.26 L75.64 262.60 L76.70 271.38 L77.76 278.83 L78.82 283.60 L79.88 288.59 L80.94 292.61 L82.00 295.62 L83.06 297.93 L84.12 299.47 L85.18 300.54 L86.24 301.32 L87.31 301.77 L88.37 302.15 L89.43 302.37 L90.49 302.54 L91.55 302.63 L92.61 302.70 L93.67 302.74 M64.00 302.59 L65.06 302.06 L66.13 300.70 L67.19 297.27 L68.25 291.21 L69.31 281.40 L70.37 266.08 L71.43 250.08 L72.49 240.66 L73.55 237.88 L74.61 241.79 L75.67 247.03 L76.73 256.91 L77.79 267.50 L78.85 274.70 L79.91 281.46 L80.97 286.83 L82.03 290.33 L83.09 294.24 L84.15 296.55 L85.21 298.49 L86.27 299.91 L87.34 300.77 L88.40 301.52 L89.46 301.93 L90.52 302.26 L91.58 302.45 L92.64 302.58 L93.70 302.67 L94.76 302.71 L95.82 302.75 M66.00 302.60 L67.06 302.15 L68.13 301.11 L69.19 298.64 L70.25 293.55 L71.31 285.60 L72.37 275.31 L73.43 259.32 L74.49 249.65 L75.55 241.59 L76.61 238.63 L77.67 246.28 L78.73 253.52 L79.79 261.83 L80.85 268.98 L81.91 274.45 L82.97 281.05 L84.03 285.49 L85.09 289.89 L86.15 293.09 L87.21 295.38 L88.27 297.62 L89.34 299.08 L90.40 300.12 L91.46 301.04 L92.52 301.60 L93.58 301.93 L94.64 302.22 L95.70 302.44 L96.76 302.56 L97.82 302.64 L98.88 302.70 L99.94 302.74 M68.00 302.60 L69.06 302.22 L70.12 301.31 L71.19 299.38 L72.25 295.81 L73.31 289.75 L74.37 279.14 L75.43 269.07 L76.49 255.37 L77.55 247.22 L78.61 239.46 L79.67 242.45 L80.73 249.24 L81.79 256.16 L82.85 261.09 L83.91 269.68 L84.97 275.27 L86.03 280.02 L87.09 284.34 L88.15 288.67 L89.21 292.23 L90.27 294.37 L91.33 296.85 L92.40 298.47 L93.46 299.58 L94.52 300.44 L95.58 301.17 L96.64 301.64 L97.70 301.98 L98.76 302.22 L99.82 302.42 L100.88 302.54 L101.94 302.62 L103.00 302.68 L104.06 302.72 L105.12 302.75 M68.37 302.63 L69.43 302.38 L70.49 301.82 L71.55 300.68 L72.61 298.25 L73.67 294.59 L74.73 288.67 L75.79 282.51 L76.85 272.47 L77.91 263.64 L78.97 254.85 L80.03 251.62 L81.09 248.36 L82.15 255.66 L83.21 258.70 L84.28 263.52 L85.34 268.63 L86.40 274.36 L87.46 279.29 L88.52 283.47 L89.58 287.10 L90.64 290.88 L91.70 293.20 L92.76 295.24 L93.82 297.03 L94.88 298.58 L95.94 299.55 L97.00 300.37 L98.06 301.06 L99.12 301.53 L100.18 301.90 L101.24 302.15 L102.30 302.34 L103.36 302.49 L104.42 302.57 L105.49 302.64 L106.55 302.69 L107.61 302.73 L108.67 302.75 M70.67 302.65 L71.73 302.43 L72.79 301.97 L73.85 300.99 L74.91 299.47 L75.97 296.44 L77.03 292.73 L78.09 286.40 L79.15 279.37 L80.21 272.10 L81.28 263.28 L82.34 258.09 L83.40 254.70 L84.46 254.52 L85.52 260.30 L86.58 265.21 L87.64 268.80 L88.70 272.42 L89.76 277.86 L90.82 281.89 L91.88 284.41 L92.94 288.03 L94.00 291.06 L95.06 293.06 L96.12 295.43 L97.18 296.87 L98.24 298.37 L99.30 299.33 L100.36 300.08 L101.42 300.73 L102.49 301.25 L103.55 301.70 L104.61 301.97 L105.67 302.21 L106.73 302.38 L107.79 302.49 L108.85 302.57 L109.91 302.64 L110.97 302.69 L112.03 302.72 L113.09 302.75 L114.15 302.76 M71.76 302.66 L72.82 302.47 L73.88 302.08 L74.94 301.31 L76.00 299.90 L77.06 297.69 L78.12 294.40 L79.18 289.15 L80.25 282.72 L81.31 276.61 L82.37 270.53 L83.43 264.63 L84.49 257.50 L85.55 258.87 L86.61 258.47 L87.67 262.50 L88.73 267.44 L89.79 270.55 L90.85 276.66 L91.91 280.39 L92.97 283.56 L94.03 287.46 L95.09 289.45 L96.15 292.53 L97.21 294.68 L98.27 296.44 L99.33 297.59 L100.39 298.83 L101.46 299.71 L102.52 300.45 L103.58 301.01 L104.64 301.45 L105.70 301.82 L106.76 302.11 L107.82 302.29 L108.88 302.44 L109.94 302.54 L111.00 302.61 L112.06 302.66 L113.12 302.71 L114.18 302.74 L115.24 302.75 L116.30 302.77 M72.85 302.66 L73.91 302.49 L74.97 302.14 L76.03 301.52 L77.09 300.34 L78.15 298.43 L79.22 296.03 L80.28 291.53 L81.34 286.58 L82.40 281.52 L83.46 274.51 L84.52 267.88 L85.58 261.91 L86.64 260.57 L87.70 259.54 L88.76 260.97 L89.82 264.76 L90.88 268.37 L91.94 273.68 L93.00 277.25 L94.06 281.80 L95.12 284.40 L96.18 287.40 L97.24 290.34 L98.30 292.62 L99.36 294.95 L100.42 296.20 L101.49 297.57 L102.55 298.72 L103.61 299.75 L104.67 300.41 L105.73 301.05 L106.79 301.41 L107.85 301.77 L108.91 302.06 L109.97 302.27 L111.03 302.40 L112.09 302.50 L113.15 302.58 L114.21 302.65 L115.27 302.70 L116.33 302.72 L117.39 302.75 L118.45 302.76 M78.91 302.65 L79.97 302.47 L81.03 302.07 L82.09 301.42 L83.15 300.21 L84.21 298.11 L85.27 294.92 L86.34 290.43 L87.40 284.92 L88.46 277.69 L89.52 271.44 L90.58 263.22 L91.64 260.49 L92.70 256.71 L93.76 255.14 L94.82 258.68 L95.88 260.98 L96.94 265.64 L98.00 270.46 L99.06 274.13 L100.12 278.91 L101.18 283.12 L102.24 286.36 L103.30 288.80 L104.36 291.39 L105.42 294.12 L106.48 295.54 L107.55 297.02 L108.61 298.44 L109.67 299.42 L110.73 300.28 L111.79 300.83 L112.85 301.32 L113.91 301.68 L114.97 302.00 L116.03 302.17 L117.09 302.35 L118.15 302.48 L119.21 302.56 L120.27 302.63 L121.33 302.68 L122.39 302.71 L123.45 302.74 L124.51 302.76 M79.40 302.66 L80.46 302.48 L81.52 302.14 L82.58 301.59 L83.64 300.54 L84.70 299.00 L85.76 296.41 L86.82 292.59 L87.88 287.72 L88.94 282.55 L90.00 276.56 L91.06 270.54 L92.12 263.58 L93.18 258.15 L94.24 258.75 L95.30 257.09 L96.36 262.54 L97.43 265.55 L98.49 269.40 L99.55 272.33 L100.61 277.16 L101.67 280.82 L102.73 283.85 L103.79 287.63 L104.85 289.63 L105.91 292.55 L106.97 294.24 L108.03 296.08 L109.09 297.48 L110.15 298.50 L111.21 299.46 L112.27 300.23 L113.33 300.82 L114.39 301.27 L115.45 301.68 L116.51 301.95 L117.57 302.14 L118.64 302.31 L119.70 302.44 L120.76 302.53 L121.82 302.61 L122.88 302.66 L123.94 302.70 L125.00 302.73 L126.06 302.75 L127.12 302.76 M76.79 302.67 L77.85 302.51 L78.91 302.15 L79.97 301.57 L81.03 300.36 L82.09 298.55 L83.15 296.18 L84.21 292.42 L85.27 287.00 L86.34 281.86 L87.40 276.05 L88.46 268.25 L89.52 264.49 L90.58 260.31 L91.64 262.15 L92.70 263.45 L93.76 265.82 L94.82 271.29 L95.88 274.53 L96.94 277.23 L98.00 280.45 L99.06 283.78 L100.12 287.92 L101.18 290.07 L102.24 292.16 L103.30 294.33 L104.36 295.89 L105.42 297.51 L106.48 298.67 L107.55 299.55 L108.61 300.29 L109.67 300.78 L110.73 301.26 L111.79 301.63 L112.85 301.95 L113.91 302.16 L114.97 302.32 L116.03 302.43 L117.09 302.52 L118.15 302.60 L119.21 302.66 L120.27 302.70 L121.33 302.73 L122.39 302.75 L123.45 302.76 M65.22 302.62 L66.28 302.18 L67.34 300.98 L68.40 298.22 L69.46 292.62 L70.52 284.40 L71.58 270.88 L72.64 256.99 L73.70 249.47 L74.76 244.98 L75.82 248.03 L76.88 256.00 L77.94 263.89 L79.00 270.93 L80.06 276.58 L81.12 283.12 L82.18 286.64 L83.24 290.76 L84.31 294.00 L85.37 296.35 L86.43 298.29 L87.49 299.69 L88.55 300.62 L89.61 301.33 L90.67 301.77 L91.73 302.13 L92.79 302.38 L93.85 302.51 L94.91 302.62 L95.97 302.69 L97.03 302.73 L98.09 302.76 M80.49 302.68 L81.55 302.54 L82.61 302.30 L83.67 301.85 L84.73 301.09 L85.79 299.96 L86.85 298.06 L87.91 295.86 L88.97 292.38 L90.03 288.10 L91.09 284.02 L92.15 278.43 L93.21 272.91 L94.27 268.77 L95.33 267.07 L96.40 263.85 L97.46 266.07 L98.52 269.61 L99.58 271.94 L100.64 275.55 L101.70 279.02 L102.76 282.53 L103.82 284.69 L104.88 287.99 L105.94 290.42 L107.00 292.57 L108.06 294.32 L109.12 296.46 L110.18 297.48 L111.24 298.55 L112.30 299.59 L113.36 300.27 L114.42 300.90 L115.48 301.32 L116.54 301.66 L117.61 301.96 L118.67 302.16 L119.73 302.30 L120.79 302.44 L121.85 302.53 L122.91 302.60 L123.97 302.66 L125.03 302.69 L126.09 302.73 L127.15 302.75 L128.21 302.76 L129.27 302.77 M73.09 302.63 L74.15 302.42 L75.22 301.87 L76.28 300.96 L77.34 299.12 L78.40 296.30 L79.46 291.60 L80.52 285.21 L81.58 278.54 L82.64 267.98 L83.70 261.38 L84.76 254.78 L85.82 251.33 L86.88 253.30 L87.94 257.16 L89.00 260.37 L90.06 265.61 L91.12 271.26 L92.18 274.95 L93.24 280.16 L94.30 284.46 L95.36 287.49 L96.43 290.62 L97.49 292.96 L98.55 294.63 L99.61 296.58 L100.67 297.78 L101.73 298.99 L102.79 300.06 L103.85 300.57 L104.91 301.14 L105.97 301.65 L107.03 301.89 L108.09 302.16 L109.15 302.34 L110.21 302.45 L111.27 302.57 L112.33 302.63 L113.39 302.68 L114.45 302.72 L115.51 302.74 L116.57 302.76 M66.79 302.64 L67.85 302.34 L68.91 301.64 L69.97 299.98 L71.03 296.98 L72.09 292.10 L73.16 285.01 L74.22 274.87 L75.28 266.19 L76.34 257.17 L77.40 252.19 L78.46 254.64 L79.52 259.92 L80.58 264.42 L81.64 270.68 L82.70 275.44 L83.76 281.05 L84.82 284.86 L85.88 288.84 L86.94 292.26 L88.00 295.14 L89.06 297.15 L90.12 298.38 L91.18 299.62 L92.24 300.55 L93.30 301.25 L94.36 301.72 L95.43 302.03 L96.49 302.28 L97.55 302.45 L98.61 302.56 L99.67 302.64 L100.73 302.70 L101.79 302.74 L102.85 302.76" stroke="#6e6e6e" stroke-width="0.5" fill="none" stroke-opacity="0.85"/>
<path d="M76.5 222.6V302.6" stroke="#27964a" stroke-width="1"/>
<text transform="translate(23.90 255.60) rotate(-90)" x="0" y="0" font-size="8.8" text-anchor="middle" fill="#222222" stroke="#222222" stroke-width="0.12" textLength="34.5" lengthAdjust="spacingAndGlyphs">Frequency</text>
<text x="94.10" y="328.50" font-size="9.2" text-anchor="middle" fill="#222222" stroke="#222222" stroke-width="0.12" font-weight="normal" textLength="56.5" lengthAdjust="spacingAndGlyphs" >Time constant (s)</text>
<rect x="180.6" y="208.6" width="71.00" height="93.40" fill="none" stroke="#2a2a2a" stroke-width="1.05"/>
<path d="M177.60 293.00H180.60" stroke="#2a2a2a" stroke-width="0.9"/>
<text x="174.60" y="296.30" font-size="9.4" text-anchor="end" fill="#222222" stroke="#222222" stroke-width="0.04" font-weight="normal" textLength="12.09" lengthAdjust="spacingAndGlyphs" >0.8</text>
<path d="M177.60 274.30H180.60" stroke="#2a2a2a" stroke-width="0.9"/>
<text x="174.60" y="277.60" font-size="9.4" text-anchor="end" fill="#222222" stroke="#222222" stroke-width="0.04" font-weight="normal" textLength="4.84" lengthAdjust="spacingAndGlyphs" >1</text>
<path d="M177.60 255.60H180.60" stroke="#2a2a2a" stroke-width="0.9"/>
<text x="174.60" y="258.90" font-size="9.4" text-anchor="end" fill="#222222" stroke="#222222" stroke-width="0.04" font-weight="normal" textLength="12.09" lengthAdjust="spacingAndGlyphs" >1.2</text>
<path d="M177.60 236.90H180.60" stroke="#2a2a2a" stroke-width="0.9"/>
<text x="174.60" y="240.20" font-size="9.4" text-anchor="end" fill="#222222" stroke="#222222" stroke-width="0.04" font-weight="normal" textLength="12.09" lengthAdjust="spacingAndGlyphs" >1.4</text>
<path d="M177.60 218.20H180.60" stroke="#2a2a2a" stroke-width="0.9"/>
<text x="174.60" y="221.50" font-size="9.4" text-anchor="end" fill="#222222" stroke="#222222" stroke-width="0.04" font-weight="normal" textLength="12.09" lengthAdjust="spacingAndGlyphs" >1.6</text>
<text transform="translate(157.60 255.60) rotate(-90)" x="0" y="0" font-size="8.6" text-anchor="middle" fill="#222222" stroke="#222222" stroke-width="0.12" textLength="56" lengthAdjust="spacingAndGlyphs">Time constant (s)</text>
<path d="M216.3 213.8V243.3 M216.3 274.3V298.2" stroke="#b52d4a" stroke-width="1" stroke-dasharray="3.5 2.2"/>
<path d="M213.5 213.8H218.5 M213.5 298.2H218.5" stroke="#b52d4a" stroke-width="1"/>
<rect x="210.5" y="243.3" width="11.2" height="31" fill="none" stroke="#b52d4a" stroke-width="1.1"/>
<path d="M210.5 263H221.7" stroke="#b52d4a" stroke-width="1.1"/>
<circle cx="209.5" cy="214" r="1.7" fill="#000"/>
<circle cx="211.5" cy="214" r="1.7" fill="#000"/>
<circle cx="212" cy="220" r="1.7" fill="#000"/>
<circle cx="227" cy="220.5" r="1.7" fill="#000"/>
<circle cx="217" cy="239.5" r="1.7" fill="#000"/>
<circle cx="229.5" cy="243" r="1.7" fill="#000"/>
<circle cx="210.75" cy="243" r="1.7" fill="#000"/>
<circle cx="192.5" cy="255.2" r="1.7" fill="#000"/>
<circle cx="199.8" cy="254.8" r="1.7" fill="#000"/>
<circle cx="189" cy="261.2" r="1.7" fill="#000"/>
<circle cx="190.4" cy="264.4" r="1.7" fill="#000"/>
<circle cx="213.8" cy="260.4" r="1.7" fill="#000"/>
<circle cx="216.4" cy="266.8" r="1.7" fill="#000"/>
<circle cx="204.3" cy="273" r="1.7" fill="#000"/>
<circle cx="195.6" cy="278.5" r="1.7" fill="#000"/>
<circle cx="194.2" cy="285.5" r="1.7" fill="#000"/>
<circle cx="202" cy="286.3" r="1.7" fill="#000"/>
<circle cx="215.8" cy="287.7" r="1.7" fill="#000"/>
<circle cx="210.7" cy="295" r="1.7" fill="#000"/>
<circle cx="215.3" cy="298.4" r="1.7" fill="#000"/>
<circle cx="226.2" cy="271.1" r="1.7" fill="#000"/>
<circle cx="229.7" cy="263.8" r="1.7" fill="#000"/>
<circle cx="237.8" cy="263.5" r="1.7" fill="#000"/>
<circle cx="240.9" cy="269.9" r="1.7" fill="#000"/>
<circle cx="243" cy="253" r="1.7" fill="#000"/>
<text x="274.90" y="181.90" font-size="11.2" text-anchor="start" fill="#000" stroke="#000" stroke-width="0.35" font-weight="bold" >D</text>
<text x="411.80" y="181.60" font-size="10.2" text-anchor="middle" fill="#222222" stroke="#222222" stroke-width="0.12" font-weight="normal" textLength="120.5" lengthAdjust="spacingAndGlyphs" >STORED RBCs ON-CIRCUIT</text>
<text x="357.00" y="199.50" font-size="9.9" text-anchor="middle" fill="#222222" stroke="#222222" stroke-width="0.12" font-weight="normal" textLength="70" lengthAdjust="spacingAndGlyphs" >Perfused bloods</text>
<text x="476.00" y="199.50" font-size="9.9" text-anchor="middle" fill="#222222" stroke="#222222" stroke-width="0.12" font-weight="normal" textLength="66" lengthAdjust="spacingAndGlyphs" >Perfused blood</text>
<path d="M312.5 213.3V302.8H400.4" stroke="#2a2a2a" stroke-width="1.05" fill="none"/>
<path d="M309.50 302.60H312.50" stroke="#2a2a2a" stroke-width="0.9"/>
<text x="306.50" y="305.90" font-size="9.4" text-anchor="end" fill="#222222" stroke="#222222" stroke-width="0.04" font-weight="normal" textLength="4.84" lengthAdjust="spacingAndGlyphs" >0</text>
<path d="M309.50 273.80H312.50" stroke="#2a2a2a" stroke-width="0.9"/>
<text x="306.50" y="277.10" font-size="9.4" text-anchor="end" fill="#222222" stroke="#222222" stroke-width="0.04" font-weight="normal" textLength="12.09" lengthAdjust="spacingAndGlyphs" >0.1</text>
<path d="M309.50 245.00H312.50" stroke="#2a2a2a" stroke-width="0.9"/>
<text x="306.50" y="248.30" font-size="9.4" text-anchor="end" fill="#222222" stroke="#222222" stroke-width="0.04" font-weight="normal" textLength="12.09" lengthAdjust="spacingAndGlyphs" >0.2</text>
<path d="M309.50 216.20H312.50" stroke="#2a2a2a" stroke-width="0.9"/>
<text x="306.50" y="219.50" font-size="9.4" text-anchor="end" fill="#222222" stroke="#222222" stroke-width="0.04" font-weight="normal" textLength="12.09" lengthAdjust="spacingAndGlyphs" >0.3</text>
<path d="M312.60 302.80V305.80" stroke="#2a2a2a" stroke-width="0.9"/>
<text x="312.60" y="316.10" font-size="9.4" text-anchor="middle" fill="#222222" stroke="#222222" stroke-width="0.04" font-weight="normal" textLength="4.84" lengthAdjust="spacingAndGlyphs" >0</text>
<path d="M355.60 302.80V305.80" stroke="#2a2a2a" stroke-width="0.9"/>
<text x="355.60" y="316.10" font-size="9.4" text-anchor="middle" fill="#222222" stroke="#222222" stroke-width="0.04" font-weight="normal" textLength="12.09" lengthAdjust="spacingAndGlyphs" >0.5</text>
<path d="M398.80 302.80V305.80" stroke="#2a2a2a" stroke-width="0.9"/>
<text x="398.80" y="316.10" font-size="9.4" text-anchor="middle" fill="#222222" stroke="#222222" stroke-width="0.04" font-weight="normal" textLength="4.84" lengthAdjust="spacingAndGlyphs" >1</text>
<path d="M348.27 301.63 L349.31 300.02 L350.34 296.52 L351.38 289.79 L352.41 279.22 L353.44 263.52 L354.48 249.29 L355.51 230.63 L356.55 216.04 L357.58 215.42 L358.62 219.48 L359.65 235.93 L360.69 249.02 L361.72 265.05 L362.75 277.52 L363.79 287.61 L364.82 294.80 L365.86 298.65 L366.89 300.79 M346.55 301.67 L347.58 300.19 L348.62 297.21 L349.65 290.77 L350.69 281.81 L351.72 266.98 L352.76 252.44 L353.79 237.93 L354.82 222.26 L355.86 224.06 L356.89 229.15 L357.93 235.91 L358.96 250.97 L360.00 267.43 L361.03 278.41 L362.06 288.65 L363.10 294.92 L364.13 298.92 L365.17 300.82 M348.70 301.72 L349.74 300.49 L350.77 298.10 L351.81 294.16 L352.84 287.38 L353.88 278.03 L354.91 265.82 L355.94 252.54 L356.98 238.68 L358.01 227.65 L359.05 227.93 L360.08 227.20 L361.12 238.49 L362.15 251.52 L363.19 263.79 L364.22 277.39 L365.25 287.44 L366.29 294.04 L367.32 298.16 L368.36 300.64 M339.22 301.87 L340.26 301.15 L341.29 299.52 L342.33 296.81 L343.36 293.20 L344.39 286.44 L345.43 279.07 L346.46 269.06 L347.50 260.79 L348.53 251.60 L349.57 244.19 L350.60 237.08 L351.63 242.00 L352.67 244.61 L353.70 252.51 L354.74 262.81 L355.77 274.55 L356.81 283.27 L357.84 290.04 L358.88 294.95 L359.91 298.57 L360.94 300.40 L361.98 301.53 M350.00 301.78 L351.03 300.79 L352.07 298.41 L353.10 294.92 L354.13 288.53 L355.17 279.02 L356.20 266.38 L357.24 255.19 L358.27 240.42 L359.31 233.52 L360.34 231.68 L361.38 234.78 L362.41 244.01 L363.44 256.20 L364.48 268.54 L365.51 278.87 L366.55 287.79 L367.58 294.88 L368.62 298.70 L369.65 300.65 M342.67 301.93 L343.70 301.27 L344.74 300.13 L345.77 298.07 L346.81 294.85 L347.84 290.67 L348.88 284.80 L349.91 278.19 L350.95 267.72 L351.98 261.69 L353.01 252.11 L354.05 244.38 L355.08 244.33 L356.12 241.44 L357.15 243.88 L358.19 251.56 L359.22 259.12 L360.25 269.91 L361.29 277.42 L362.32 285.19 L363.36 290.30 L364.39 295.17 L365.43 298.12 L366.46 299.97 L367.50 301.22 M340.08 301.92 L341.12 301.30 L342.15 300.14 L343.19 298.13 L344.22 295.24 L345.26 291.11 L346.29 285.25 L347.32 278.59 L348.36 269.97 L349.39 259.49 L350.43 251.47 L351.46 246.70 L352.50 243.99 L353.53 244.74 L354.57 249.08 L355.60 254.18 L356.63 260.18 L357.67 268.68 L358.70 278.17 L359.74 284.71 L360.77 290.66 L361.81 295.12 L362.84 298.15 L363.88 300.08 L364.91 301.31 M346.55 301.84 L347.58 301.01 L348.62 299.37 L349.65 296.45 L350.69 292.00 L351.72 286.00 L352.76 276.29 L353.79 266.57 L354.82 255.81 L355.86 248.28 L356.89 238.34 L357.93 236.42 L358.96 235.35 L360.00 242.08 L361.03 249.57 L362.06 261.07 L363.10 271.53 L364.13 281.96 L365.17 289.05 L366.20 294.45 L367.24 298.03 L368.27 300.32 L369.31 301.46 M351.72 301.81 L352.76 300.54 L353.79 297.67 L354.82 292.34 L355.86 284.22 L356.89 272.28 L357.93 259.47 L358.96 243.31 L360.00 233.39 L361.03 233.80 L362.06 237.19 L363.10 246.59 L364.13 258.84 L365.17 272.74 L366.20 282.16 L367.24 290.61 L368.27 296.02 L369.31 299.39 L370.34 301.12 M340.51 301.98 L341.55 301.45 L342.58 300.52 L343.62 299.24 L344.65 297.06 L345.69 293.80 L346.72 289.34 L347.76 284.52 L348.79 277.32 L349.82 270.28 L350.86 264.88 L351.89 257.00 L352.93 252.84 L353.96 250.53 L355.00 249.56 L356.03 250.65 L357.07 255.33 L358.10 261.09 L359.13 268.32 L360.17 274.28 L361.20 281.21 L362.24 286.80 L363.27 291.69 L364.31 295.61 L365.34 297.97 L366.38 300.02 L367.41 301.07 L368.44 301.78 M344.82 301.90 L345.86 301.13 L346.89 299.50 L347.93 297.02 L348.96 293.19 L350.00 286.66 L351.03 279.59 L352.07 269.14 L353.10 259.64 L354.13 249.33 L355.17 240.47 L356.20 237.77 L357.24 240.90 L358.27 244.35 L359.31 253.63 L360.34 264.57 L361.38 275.01 L362.41 282.89 L363.44 290.00 L364.48 294.84 L365.51 298.28 L366.55 300.42 L367.58 301.57 M330.60 302.17 L331.64 301.94 L332.67 301.54 L333.71 300.89 L334.74 300.00 L335.77 298.94 L336.81 297.18 L337.84 294.96 L338.88 292.76 L339.91 289.72 L340.95 286.58 L341.98 282.81 L343.01 277.69 L344.05 275.06 L345.08 270.17 L346.12 267.31 L347.15 266.10 L348.19 266.01 L349.22 263.91 L350.26 266.82 L351.29 269.78 L352.32 273.72 L353.36 276.66 L354.39 282.17 L355.43 286.79 L356.46 290.47 L357.50 294.04 L358.53 296.38 L359.57 298.49 L360.60 299.99 L361.63 300.92 L362.67 301.60 L363.70 302.06 M350.43 301.99 L351.46 301.32 L352.50 299.90 L353.53 297.62 L354.57 294.33 L355.60 289.21 L356.63 282.63 L357.67 272.68 L358.70 265.63 L359.74 256.50 L360.77 250.94 L361.81 247.37 L362.84 248.52 L363.88 252.57 L364.91 262.06 L365.94 268.72 L366.98 278.46 L368.01 285.67 L369.05 291.91 L370.08 296.24 L371.12 298.99 L372.15 300.74 L373.18 301.71 M346.12 302.01 L347.15 301.44 L348.19 300.51 L349.22 298.82 L350.26 296.15 L351.29 292.00 L352.32 286.77 L353.36 280.83 L354.39 274.79 L355.43 265.36 L356.46 259.55 L357.50 253.72 L358.53 250.27 L359.57 250.59 L360.60 254.08 L361.63 257.87 L362.67 266.50 L363.70 273.92 L364.74 280.30 L365.77 287.62 L366.81 292.51 L367.84 295.96 L368.87 298.88 L369.91 300.38 L370.94 301.43 M336.64 302.09 L337.67 301.70 L338.70 301.00 L339.74 299.93 L340.77 298.62 L341.81 296.37 L342.84 293.45 L343.88 289.79 L344.91 285.54 L345.95 280.79 L346.98 274.46 L348.01 268.30 L349.05 265.44 L350.08 260.98 L351.12 256.28 L352.15 255.44 L353.19 256.84 L354.22 261.68 L355.26 263.43 L356.29 267.86 L357.32 273.54 L358.36 279.81 L359.39 285.93 L360.43 289.44 L361.46 293.69 L362.50 296.29 L363.53 298.35 L364.56 299.97 L365.60 301.08 L366.63 301.70 M355.17 302.07 L356.20 301.43 L357.24 299.99 L358.27 297.55 L359.31 293.73 L360.34 287.49 L361.38 280.99 L362.41 272.83 L363.44 264.48 L364.48 260.06 L365.51 258.15 L366.55 257.86 L367.58 261.85 L368.62 268.13 L369.65 277.27 L370.69 283.76 L371.72 289.98 L372.75 294.47 L373.79 297.87 L374.82 299.92 L375.86 301.30 L376.89 302.00 M362.50 302.11 L363.53 301.50 L364.56 300.15 L365.60 297.83 L366.63 293.77 L367.67 288.51 L368.70 281.37 L369.74 274.33 L370.77 266.37 L371.81 262.11 L372.84 258.53 L373.87 260.85 L374.91 266.22 L375.94 271.90 L376.98 278.39 L378.01 284.50 L379.05 290.90 L380.08 294.91 L381.12 298.11 L382.15 300.26 L383.18 301.35 L384.22 302.03 M337.50 302.13 L338.53 301.80 L339.57 301.36 L340.60 300.57 L341.64 299.64 L342.67 298.31 L343.70 296.27 L344.74 294.37 L345.77 290.92 L346.81 288.19 L347.84 284.23 L348.88 278.54 L349.91 274.50 L350.95 271.23 L351.98 267.62 L353.01 261.70 L354.05 260.25 L355.08 258.45 L356.12 260.80 L357.15 260.39 L358.19 263.65 L359.22 267.28 L360.25 270.95 L361.29 274.65 L362.32 279.66 L363.36 283.87 L364.39 288.09 L365.43 290.83 L366.46 293.95 L367.50 296.26 L368.53 298.27 L369.56 299.55 L370.60 300.63 L371.63 301.32 L372.67 301.80 M350.86 301.92 L351.89 301.03 L352.93 299.31 L353.96 296.18 L355.00 290.92 L356.03 283.69 L357.07 272.24 L358.10 262.32 L359.13 251.03 L360.17 247.09 L361.20 242.26 L362.24 242.98 L363.27 251.60 L364.31 262.49 L365.34 273.24 L366.38 283.59 L367.41 290.96 L368.44 296.11 L369.48 299.24 L370.51 301.03 M343.53 301.84 L344.57 300.92 L345.60 298.95 L346.64 295.43 L347.67 289.85 L348.70 281.46 L349.74 271.04 L350.77 258.48 L351.81 249.34 L352.84 237.12 L353.88 237.05 L354.91 237.06 L355.94 246.44 L356.98 257.81 L358.01 270.43 L359.05 280.33 L360.08 289.89 L361.12 295.20 L362.15 298.94 L363.19 300.85 M328.88 302.27 L329.91 302.09 L330.95 301.78 L331.98 301.34 L333.02 300.66 L334.05 299.80 L335.08 298.51 L336.12 296.68 L337.15 295.04 L338.19 292.79 L339.22 290.03 L340.26 287.39 L341.29 283.79 L342.33 280.84 L343.36 279.19 L344.39 276.87 L345.43 274.35 L346.46 272.89 L347.50 273.57 L348.53 274.89 L349.57 275.33 L350.60 279.49 L351.63 281.96 L352.67 283.72 L353.70 287.23 L354.74 290.46 L355.77 292.60 L356.81 294.65 L357.84 296.89 L358.88 298.52 L359.91 299.79 L360.94 300.69 L361.98 301.25 L363.01 301.76 L364.05 302.05 M337.50 302.23 L338.53 302.02 L339.57 301.73 L340.60 301.27 L341.64 300.73 L342.67 299.90 L343.70 298.82 L344.74 297.52 L345.77 296.01 L346.81 294.07 L347.84 290.96 L348.88 289.06 L349.91 285.77 L350.95 282.84 L351.98 279.49 L353.01 277.38 L354.05 274.16 L355.08 272.35 L356.12 269.45 L357.15 267.27 L358.19 267.77 L359.22 267.45 L360.25 270.32 L361.29 272.57 L362.32 273.64 L363.36 276.54 L364.39 279.42 L365.43 282.88 L366.46 285.61 L367.50 288.46 L368.53 291.01 L369.56 293.88 L370.60 295.79 L371.63 297.30 L372.67 298.87 L373.70 299.93 L374.74 300.69 L375.77 301.31 L376.81 301.68 L377.84 301.99" stroke="#7c7c7c" stroke-width="0.5" fill="none" stroke-opacity="0.8"/>
<path d="M355.6 216.4V302.6" stroke="#27964a" stroke-width="1"/>
<text transform="translate(290.70 258.00) rotate(-90)" x="0" y="0" font-size="8.8" text-anchor="middle" fill="#222222" stroke="#222222" stroke-width="0.12" textLength="34.5" lengthAdjust="spacingAndGlyphs">Frequency</text>
<text x="356.50" y="328.80" font-size="9.2" text-anchor="middle" fill="#222222" stroke="#222222" stroke-width="0.12" font-weight="normal" textLength="28" lengthAdjust="spacingAndGlyphs" >Capacity</text>
<rect x="441.4" y="208.6" width="68.70" height="93.60" fill="none" stroke="#2a2a2a" stroke-width="1.05"/>
<path d="M438.40 302.20H441.40" stroke="#2a2a2a" stroke-width="0.9"/>
<text x="435.40" y="305.50" font-size="9.4" text-anchor="end" fill="#222222" stroke="#222222" stroke-width="0.04" font-weight="normal" textLength="12.09" lengthAdjust="spacingAndGlyphs" >0.4</text>
<path d="M438.40 271.00H441.40" stroke="#2a2a2a" stroke-width="0.9"/>
<text x="435.40" y="274.30" font-size="9.4" text-anchor="end" fill="#222222" stroke="#222222" stroke-width="0.04" font-weight="normal" textLength="12.09" lengthAdjust="spacingAndGlyphs" >0.5</text>
<path d="M438.40 239.80H441.40" stroke="#2a2a2a" stroke-width="0.9"/>
<text x="435.40" y="243.10" font-size="9.4" text-anchor="end" fill="#222222" stroke="#222222" stroke-width="0.04" font-weight="normal" textLength="12.09" lengthAdjust="spacingAndGlyphs" >0.6</text>
<path d="M438.40 208.60H441.40" stroke="#2a2a2a" stroke-width="0.9"/>
<text x="435.40" y="211.90" font-size="9.4" text-anchor="end" fill="#222222" stroke="#222222" stroke-width="0.04" font-weight="normal" textLength="12.09" lengthAdjust="spacingAndGlyphs" >0.7</text>
<text transform="translate(419.80 255.60) rotate(-90)" x="0" y="0" font-size="8.8" text-anchor="middle" fill="#222222" stroke="#222222" stroke-width="0.12" textLength="27.5" lengthAdjust="spacingAndGlyphs">Capacity</text>
<path d="M475.3 239.8V258.5 M475.3 282.7V298.3" stroke="#b52d4a" stroke-width="1" stroke-dasharray="3.5 2.2"/>
<path d="M472.7 239.8H478 M472.7 298.3H478" stroke="#b52d4a" stroke-width="1"/>
<rect x="470.6" y="258.5" width="10.9" height="24.2" fill="none" stroke="#b52d4a" stroke-width="1.1"/>
<path d="M470.6 267.1H481.5" stroke="#b52d4a" stroke-width="1.1"/>
<circle cx="446.7" cy="276.7" r="1.7" fill="#000"/>
<circle cx="449.8" cy="266.6" r="1.7" fill="#000"/>
<circle cx="452.4" cy="262.7" r="1.7" fill="#000"/>
<circle cx="457.1" cy="286.1" r="1.7" fill="#000"/>
<circle cx="458.9" cy="263.2" r="1.7" fill="#000"/>
<circle cx="459.4" cy="256.7" r="1.7" fill="#000"/>
<circle cx="464.9" cy="278.8" r="1.7" fill="#000"/>
<circle cx="466.7" cy="282.2" r="1.7" fill="#000"/>
<circle cx="468" cy="245" r="1.7" fill="#000"/>
<circle cx="468" cy="251.5" r="1.7" fill="#000"/>
<circle cx="469.3" cy="256.7" r="1.7" fill="#000"/>
<circle cx="472.7" cy="239.3" r="1.7" fill="#000"/>
<circle cx="473.7" cy="269.7" r="1.7" fill="#000"/>
<circle cx="477.1" cy="264.5" r="1.7" fill="#000"/>
<circle cx="475.8" cy="276.2" r="1.7" fill="#000"/>
<circle cx="475.8" cy="284" r="1.7" fill="#000"/>
<circle cx="474.5" cy="289.2" r="1.7" fill="#000"/>
<circle cx="481" cy="297.8" r="1.7" fill="#000"/>
<circle cx="486.7" cy="266.6" r="1.7" fill="#000"/>
<circle cx="489.6" cy="289.2" r="1.7" fill="#000"/>
<circle cx="490.1" cy="295.7" r="1.7" fill="#000"/>
<circle cx="495.8" cy="264.5" r="1.7" fill="#000"/>
<circle cx="500.5" cy="272.8" r="1.7" fill="#000"/>
<circle cx="501.3" cy="260.1" r="1.7" fill="#000"/>
<path d="M472 213.3H477.5" stroke="#b52d4a" stroke-width="1.2"/>
<circle cx="474.5" cy="213.3" r="1.5" fill="#5a1020"/>
<text x="7.90" y="363.10" font-size="11.2" text-anchor="start" fill="#000" stroke="#000" stroke-width="0.35" font-weight="bold" >E</text>
<text x="108.00" y="363.30" font-size="9.9" text-anchor="middle" fill="#222222" stroke="#222222" stroke-width="0.12" font-weight="normal" textLength="83" lengthAdjust="spacingAndGlyphs" >Blood for perfusion</text>
<text x="285.30" y="363.30" font-size="9.9" text-anchor="middle" fill="#222222" stroke="#222222" stroke-width="0.12" font-weight="normal" textLength="83" lengthAdjust="spacingAndGlyphs" >Blood for perfusion</text>
<path d="M42.9 368.5V478.5H174.2" stroke="#2a2a2a" stroke-width="1.05" fill="none"/>
<path d="M39.90 478.30H42.90" stroke="#2a2a2a" stroke-width="0.9"/>
<text x="36.90" y="481.60" font-size="9.4" text-anchor="end" fill="#222222" stroke="#222222" stroke-width="0.04" font-weight="normal" textLength="12.09" lengthAdjust="spacingAndGlyphs" >0.5</text>
<path d="M39.90 451.70H42.90" stroke="#2a2a2a" stroke-width="0.9"/>
<text x="36.90" y="455.00" font-size="9.4" text-anchor="end" fill="#222222" stroke="#222222" stroke-width="0.04" font-weight="normal" textLength="4.84" lengthAdjust="spacingAndGlyphs" >1</text>
<path d="M39.90 424.90H42.90" stroke="#2a2a2a" stroke-width="0.9"/>
<text x="36.90" y="428.20" font-size="9.4" text-anchor="end" fill="#222222" stroke="#222222" stroke-width="0.04" font-weight="normal" textLength="12.09" lengthAdjust="spacingAndGlyphs" >1.5</text>
<path d="M39.90 398.00H42.90" stroke="#2a2a2a" stroke-width="0.9"/>
<text x="36.90" y="401.30" font-size="9.4" text-anchor="end" fill="#222222" stroke="#222222" stroke-width="0.04" font-weight="normal" textLength="4.84" lengthAdjust="spacingAndGlyphs" >2</text>
<path d="M39.90 371.20H42.90" stroke="#2a2a2a" stroke-width="0.9"/>
<text x="36.90" y="374.50" font-size="9.4" text-anchor="end" fill="#222222" stroke="#222222" stroke-width="0.04" font-weight="normal" textLength="12.09" lengthAdjust="spacingAndGlyphs" >2.5</text>
<path d="M64.6 478.5V481.5" stroke="#2a2a2a" stroke-width="0.9"/>
<text x="64.60" y="491.60" font-size="8.4" text-anchor="middle" fill="#222222" stroke="#222222" stroke-width="0.12" font-weight="normal" >Pre</text>
<path d="M152.0 478.5V481.5" stroke="#2a2a2a" stroke-width="0.9"/>
<text x="152.00" y="491.60" font-size="8.4" text-anchor="middle" fill="#222222" stroke="#222222" stroke-width="0.12" font-weight="normal" >End</text>
<path d="M64.6 391.1L152.0 418.5 M64.6 392.5L152.0 420.6 M64.6 393.8L152.0 458.7 M64.6 403.5L152.0 463.5 M64.6 406.9L152.0 421.7 M64.6 414.7L152.0 416.3 M64.6 416.3L152.0 431.3 M64.6 417.4L152.0 435.6 M64.6 418.5L152.0 451.7 M64.6 420.6L152.0 433.5 M64.6 422.2L152.0 439.9 M64.6 423.8L152.0 449.0 M64.6 424.9L152.0 436.7 M64.6 426.5L152.0 443.7 M64.6 427.6L152.0 456.0 M64.6 429.2L152.0 441.0 M64.6 430.3L152.0 446.3 M64.6 431.9L152.0 453.8 M64.6 432.9L152.0 437.8 M64.6 434.5L152.0 447.4 M64.6 436.2L152.0 457.1 M64.6 437.8L152.0 445.3 M64.6 439.4L152.0 450.6 M64.6 441.0L152.0 452.8 M64.6 442.6L152.0 442.1 M64.6 443.7L152.0 448.5 M64.6 445.3L152.0 454.9 M64.6 450.1L152.0 452.2 M64.6 419.5L152.0 432.4 M64.6 434.0L152.0 444.2" stroke="#475569" stroke-width="0.5" stroke-opacity="0.9" fill="none"/>
<circle cx="64.6" cy="391.1" r="1.2" fill="#475569"/>
<circle cx="152.0" cy="418.5" r="1.2" fill="#475569"/>
<circle cx="64.6" cy="392.5" r="1.2" fill="#475569"/>
<circle cx="152.0" cy="420.6" r="1.2" fill="#475569"/>
<circle cx="64.6" cy="393.8" r="1.2" fill="#475569"/>
<circle cx="152.0" cy="458.7" r="1.2" fill="#475569"/>
<circle cx="64.6" cy="403.5" r="1.2" fill="#475569"/>
<circle cx="152.0" cy="463.5" r="1.2" fill="#475569"/>
<circle cx="64.6" cy="406.9" r="1.2" fill="#475569"/>
<circle cx="152.0" cy="421.7" r="1.2" fill="#475569"/>
<circle cx="64.6" cy="414.7" r="1.2" fill="#475569"/>
<circle cx="152.0" cy="416.3" r="1.2" fill="#475569"/>
<circle cx="64.6" cy="416.3" r="1.2" fill="#475569"/>
<circle cx="152.0" cy="431.3" r="1.2" fill="#475569"/>
<circle cx="64.6" cy="417.4" r="1.2" fill="#475569"/>
<circle cx="152.0" cy="435.6" r="1.2" fill="#475569"/>
<circle cx="64.6" cy="418.5" r="1.2" fill="#475569"/>
<circle cx="152.0" cy="451.7" r="1.2" fill="#475569"/>
<circle cx="64.6" cy="420.6" r="1.2" fill="#475569"/>
<circle cx="152.0" cy="433.5" r="1.2" fill="#475569"/>
<circle cx="64.6" cy="422.2" r="1.2" fill="#475569"/>
<circle cx="152.0" cy="439.9" r="1.2" fill="#475569"/>
<circle cx="64.6" cy="423.8" r="1.2" fill="#475569"/>
<circle cx="152.0" cy="449.0" r="1.2" fill="#475569"/>
<circle cx="64.6" cy="424.9" r="1.2" fill="#475569"/>
<circle cx="152.0" cy="436.7" r="1.2" fill="#475569"/>
<circle cx="64.6" cy="426.5" r="1.2" fill="#475569"/>
<circle cx="152.0" cy="443.7" r="1.2" fill="#475569"/>
<circle cx="64.6" cy="427.6" r="1.2" fill="#475569"/>
<circle cx="152.0" cy="456.0" r="1.2" fill="#475569"/>
<circle cx="64.6" cy="429.2" r="1.2" fill="#475569"/>
<circle cx="152.0" cy="441.0" r="1.2" fill="#475569"/>
<circle cx="64.6" cy="430.3" r="1.2" fill="#475569"/>
<circle cx="152.0" cy="446.3" r="1.2" fill="#475569"/>
<circle cx="64.6" cy="431.9" r="1.2" fill="#475569"/>
<circle cx="152.0" cy="453.8" r="1.2" fill="#475569"/>
<circle cx="64.6" cy="432.9" r="1.2" fill="#475569"/>
<circle cx="152.0" cy="437.8" r="1.2" fill="#475569"/>
<circle cx="64.6" cy="434.5" r="1.2" fill="#475569"/>
<circle cx="152.0" cy="447.4" r="1.2" fill="#475569"/>
<circle cx="64.6" cy="436.2" r="1.2" fill="#475569"/>
<circle cx="152.0" cy="457.1" r="1.2" fill="#475569"/>
<circle cx="64.6" cy="437.8" r="1.2" fill="#475569"/>
<circle cx="152.0" cy="445.3" r="1.2" fill="#475569"/>
<circle cx="64.6" cy="439.4" r="1.2" fill="#475569"/>
<circle cx="152.0" cy="450.6" r="1.2" fill="#475569"/>
<circle cx="64.6" cy="441.0" r="1.2" fill="#475569"/>
<circle cx="152.0" cy="452.8" r="1.2" fill="#475569"/>
<circle cx="64.6" cy="442.6" r="1.2" fill="#475569"/>
<circle cx="152.0" cy="442.1" r="1.2" fill="#475569"/>
<circle cx="64.6" cy="443.7" r="1.2" fill="#475569"/>
<circle cx="152.0" cy="448.5" r="1.2" fill="#475569"/>
<circle cx="64.6" cy="445.3" r="1.2" fill="#475569"/>
<circle cx="152.0" cy="454.9" r="1.2" fill="#475569"/>
<circle cx="64.6" cy="450.1" r="1.2" fill="#475569"/>
<circle cx="152.0" cy="452.2" r="1.2" fill="#475569"/>
<circle cx="64.6" cy="419.5" r="1.2" fill="#475569"/>
<circle cx="152.0" cy="432.4" r="1.2" fill="#475569"/>
<circle cx="64.6" cy="434.0" r="1.2" fill="#475569"/>
<circle cx="152.0" cy="444.2" r="1.2" fill="#475569"/>
<text transform="translate(20.60 424.10) rotate(-90)" x="0" y="0" font-size="8.6" text-anchor="middle" fill="#222222" stroke="#222222" stroke-width="0.12" textLength="56" lengthAdjust="spacingAndGlyphs">Time constant (s)</text>
<text x="108.50" y="400.60" font-size="8.3" text-anchor="start" fill="#3f5f98" stroke="#3f5f98" stroke-width="0.02" font-weight="normal" textLength="42.5" lengthAdjust="spacingAndGlyphs" ><tspan font-style="italic">P</tspan> = 8.4e&#8211;07</text>
<path d="M219.8 368.5V478.5H339.6" stroke="#2a2a2a" stroke-width="1.05" fill="none"/>
<path d="M216.80 478.50H219.80" stroke="#2a2a2a" stroke-width="0.9"/>
<text x="213.80" y="481.80" font-size="9.4" text-anchor="end" fill="#222222" stroke="#222222" stroke-width="0.04" font-weight="normal" textLength="12.09" lengthAdjust="spacingAndGlyphs" >0.3</text>
<path d="M216.80 451.50H219.80" stroke="#2a2a2a" stroke-width="0.9"/>
<text x="213.80" y="454.80" font-size="9.4" text-anchor="end" fill="#222222" stroke="#222222" stroke-width="0.04" font-weight="normal" textLength="12.09" lengthAdjust="spacingAndGlyphs" >0.4</text>
<path d="M216.80 424.80H219.80" stroke="#2a2a2a" stroke-width="0.9"/>
<text x="213.80" y="428.10" font-size="9.4" text-anchor="end" fill="#222222" stroke="#222222" stroke-width="0.04" font-weight="normal" textLength="12.09" lengthAdjust="spacingAndGlyphs" >0.5</text>
<path d="M216.80 397.80H219.80" stroke="#2a2a2a" stroke-width="0.9"/>
<text x="213.80" y="401.10" font-size="9.4" text-anchor="end" fill="#222222" stroke="#222222" stroke-width="0.04" font-weight="normal" textLength="12.09" lengthAdjust="spacingAndGlyphs" >0.6</text>
<path d="M216.80 371.20H219.80" stroke="#2a2a2a" stroke-width="0.9"/>
<text x="213.80" y="374.50" font-size="9.4" text-anchor="end" fill="#222222" stroke="#222222" stroke-width="0.04" font-weight="normal" textLength="12.09" lengthAdjust="spacingAndGlyphs" >0.7</text>
<path d="M241.6 478.5V481.5" stroke="#2a2a2a" stroke-width="0.9"/>
<text x="241.60" y="491.60" font-size="8.4" text-anchor="middle" fill="#222222" stroke="#222222" stroke-width="0.12" font-weight="normal" >Pre</text>
<path d="M328.6 478.5V481.5" stroke="#2a2a2a" stroke-width="0.9"/>
<text x="328.60" y="491.60" font-size="8.4" text-anchor="middle" fill="#222222" stroke="#222222" stroke-width="0.12" font-weight="normal" >End</text>
<path d="M241.6 396.7L328.6 375.0 M241.6 405.0L328.6 432.8 M241.6 410.6L328.6 446.2 M241.6 412.0L328.6 411.4 M241.6 413.3L328.6 416.8 M241.6 414.6L328.6 407.4 M241.6 416.0L328.6 427.5 M241.6 417.3L328.6 412.8 M241.6 418.6L328.6 419.4 M241.6 420.0L328.6 435.5 M241.6 421.3L328.6 415.4 M241.6 422.7L328.6 422.1 M241.6 424.0L328.6 410.1 M241.6 425.6L328.6 424.8 M241.6 427.5L328.6 430.2 M241.6 428.8L328.6 418.1 M241.6 430.2L328.6 402.1 M241.6 431.5L328.6 420.8 M241.6 432.8L328.6 438.2 M241.6 434.2L328.6 414.1 M241.6 435.5L328.6 423.5 M241.6 436.8L328.6 397.5 M241.6 438.2L328.6 426.1 M241.6 439.5L328.6 408.8 M241.6 440.9L328.6 440.9 M241.6 454.2L328.6 447.0 M241.6 411.4L328.6 431.5 M241.6 424.8L328.6 416.8" stroke="#475569" stroke-width="0.5" stroke-opacity="0.9" fill="none"/>
<circle cx="241.6" cy="396.7" r="1.2" fill="#475569"/>
<circle cx="328.6" cy="375.0" r="1.2" fill="#475569"/>
<circle cx="241.6" cy="405.0" r="1.2" fill="#475569"/>
<circle cx="328.6" cy="432.8" r="1.2" fill="#475569"/>
<circle cx="241.6" cy="410.6" r="1.2" fill="#475569"/>
<circle cx="328.6" cy="446.2" r="1.2" fill="#475569"/>
<circle cx="241.6" cy="412.0" r="1.2" fill="#475569"/>
<circle cx="328.6" cy="411.4" r="1.2" fill="#475569"/>
<circle cx="241.6" cy="413.3" r="1.2" fill="#475569"/>
<circle cx="328.6" cy="416.8" r="1.2" fill="#475569"/>
<circle cx="241.6" cy="414.6" r="1.2" fill="#475569"/>
<circle cx="328.6" cy="407.4" r="1.2" fill="#475569"/>
<circle cx="241.6" cy="416.0" r="1.2" fill="#475569"/>
<circle cx="328.6" cy="427.5" r="1.2" fill="#475569"/>
<circle cx="241.6" cy="417.3" r="1.2" fill="#475569"/>
<circle cx="328.6" cy="412.8" r="1.2" fill="#475569"/>
<circle cx="241.6" cy="418.6" r="1.2" fill="#475569"/>
<circle cx="328.6" cy="419.4" r="1.2" fill="#475569"/>
<circle cx="241.6" cy="420.0" r="1.2" fill="#475569"/>
<circle cx="328.6" cy="435.5" r="1.2" fill="#475569"/>
<circle cx="241.6" cy="421.3" r="1.2" fill="#475569"/>
<circle cx="328.6" cy="415.4" r="1.2" fill="#475569"/>
<circle cx="241.6" cy="422.7" r="1.2" fill="#475569"/>
<circle cx="328.6" cy="422.1" r="1.2" fill="#475569"/>
<circle cx="241.6" cy="424.0" r="1.2" fill="#475569"/>
<circle cx="328.6" cy="410.1" r="1.2" fill="#475569"/>
<circle cx="241.6" cy="425.6" r="1.2" fill="#475569"/>
<circle cx="328.6" cy="424.8" r="1.2" fill="#475569"/>
<circle cx="241.6" cy="427.5" r="1.2" fill="#475569"/>
<circle cx="328.6" cy="430.2" r="1.2" fill="#475569"/>
<circle cx="241.6" cy="428.8" r="1.2" fill="#475569"/>
<circle cx="328.6" cy="418.1" r="1.2" fill="#475569"/>
<circle cx="241.6" cy="430.2" r="1.2" fill="#475569"/>
<circle cx="328.6" cy="402.1" r="1.2" fill="#475569"/>
<circle cx="241.6" cy="431.5" r="1.2" fill="#475569"/>
<circle cx="328.6" cy="420.8" r="1.2" fill="#475569"/>
<circle cx="241.6" cy="432.8" r="1.2" fill="#475569"/>
<circle cx="328.6" cy="438.2" r="1.2" fill="#475569"/>
<circle cx="241.6" cy="434.2" r="1.2" fill="#475569"/>
<circle cx="328.6" cy="414.1" r="1.2" fill="#475569"/>
<circle cx="241.6" cy="435.5" r="1.2" fill="#475569"/>
<circle cx="328.6" cy="423.5" r="1.2" fill="#475569"/>
<circle cx="241.6" cy="436.8" r="1.2" fill="#475569"/>
<circle cx="328.6" cy="397.5" r="1.2" fill="#475569"/>
<circle cx="241.6" cy="438.2" r="1.2" fill="#475569"/>
<circle cx="328.6" cy="426.1" r="1.2" fill="#475569"/>
<circle cx="241.6" cy="439.5" r="1.2" fill="#475569"/>
<circle cx="328.6" cy="408.8" r="1.2" fill="#475569"/>
<circle cx="241.6" cy="440.9" r="1.2" fill="#475569"/>
<circle cx="328.6" cy="440.9" r="1.2" fill="#475569"/>
<circle cx="241.6" cy="454.2" r="1.2" fill="#475569"/>
<circle cx="328.6" cy="447.0" r="1.2" fill="#475569"/>
<circle cx="241.6" cy="411.4" r="1.2" fill="#475569"/>
<circle cx="328.6" cy="431.5" r="1.2" fill="#475569"/>
<circle cx="241.6" cy="424.8" r="1.2" fill="#475569"/>
<circle cx="328.6" cy="416.8" r="1.2" fill="#475569"/>
<text transform="translate(197.70 423.40) rotate(-90)" x="0" y="0" font-size="8.8" text-anchor="middle" fill="#222222" stroke="#222222" stroke-width="0.12" textLength="27.5" lengthAdjust="spacingAndGlyphs">Capacity</text>
<text x="284.50" y="468.00" font-size="8.3" text-anchor="start" fill="#3f5f98" stroke="#3f5f98" stroke-width="0.02" font-weight="normal" textLength="35" lengthAdjust="spacingAndGlyphs" ><tspan font-style="italic">P</tspan> = .0657</text>
<text x="366.50" y="363.20" font-size="11.2" text-anchor="start" fill="#000" stroke="#000" stroke-width="0.35" font-weight="bold" >F</text>
<text x="456.00" y="370.00" font-size="9.9" text-anchor="middle" fill="#222222" stroke="#222222" stroke-width="0.12" font-weight="normal" textLength="83" lengthAdjust="spacingAndGlyphs" >Blood for perfusion</text>
<rect x="403.4" y="378.8" width="105.00" height="99.70" fill="none" stroke="#2a2a2a" stroke-width="1.05"/>
<path d="M400.40 478.50H403.40" stroke="#2a2a2a" stroke-width="0.9"/>
<text x="397.40" y="481.80" font-size="9.4" text-anchor="end" fill="#222222" stroke="#222222" stroke-width="0.04" font-weight="normal" textLength="12.09" lengthAdjust="spacingAndGlyphs" >0.2</text>
<path d="M400.40 445.30H403.40" stroke="#2a2a2a" stroke-width="0.9"/>
<text x="397.40" y="448.60" font-size="9.4" text-anchor="end" fill="#222222" stroke="#222222" stroke-width="0.04" font-weight="normal" textLength="12.09" lengthAdjust="spacingAndGlyphs" >0.4</text>
<path d="M400.40 412.00H403.40" stroke="#2a2a2a" stroke-width="0.9"/>
<text x="397.40" y="415.30" font-size="9.4" text-anchor="end" fill="#222222" stroke="#222222" stroke-width="0.04" font-weight="normal" textLength="12.09" lengthAdjust="spacingAndGlyphs" >0.6</text>
<path d="M400.40 378.80H403.40" stroke="#2a2a2a" stroke-width="0.9"/>
<text x="397.40" y="382.10" font-size="9.4" text-anchor="end" fill="#222222" stroke="#222222" stroke-width="0.04" font-weight="normal" textLength="12.09" lengthAdjust="spacingAndGlyphs" >0.8</text>
<text x="429.90" y="491.60" font-size="8.4" text-anchor="middle" fill="#222222" stroke="#222222" stroke-width="0.12" font-weight="normal" >Pre</text>
<text x="482.50" y="491.60" font-size="8.4" text-anchor="middle" fill="#222222" stroke="#222222" stroke-width="0.12" font-weight="normal" >End</text>
<text transform="translate(378 428.6) rotate(-90)" font-size="9.4" text-anchor="middle" fill="#222222">V&#8242;<tspan font-size="5.6" dy="2">RBC,O2</tspan></text>
<path d="M430.4 440.1V449.2 M430.4 462.4V474.4 M480.6 407.7V428.8 M480.6 448.5V454.5" stroke="#b52d4a" stroke-width="1" stroke-dasharray="3.5 2.2"/>
<path d="M427.4 440.1H433.4 M478 407.7H484 M478 454.5H484" stroke="#b52d4a" stroke-width="1"/>
<rect x="421.4" y="449.2" width="16.3" height="13.2" fill="none" stroke="#b52d4a" stroke-width="1.1"/>
<path d="M421.4 456.4H437.7" stroke="#b52d4a" stroke-width="1.1"/>
<rect x="474.2" y="428.8" width="16.8" height="19.7" fill="none" stroke="#b52d4a" stroke-width="1.1"/>
<path d="M474.2 438.4H491" stroke="#b52d4a" stroke-width="1.1"/>
<circle cx="410.6" cy="451.6" r="1.7" fill="#000"/>
<circle cx="411.3" cy="460.5" r="1.7" fill="#000"/>
<circle cx="416.6" cy="460.5" r="1.7" fill="#000"/>
<circle cx="416.6" cy="448.5" r="1.7" fill="#000"/>
<circle cx="419" cy="444.4" r="1.7" fill="#000"/>
<circle cx="422.6" cy="440.8" r="1.7" fill="#000"/>
<circle cx="421.4" cy="452.8" r="1.7" fill="#000"/>
<circle cx="420.2" cy="461.9" r="1.7" fill="#000"/>
<circle cx="423.3" cy="467.9" r="1.7" fill="#000"/>
<circle cx="425" cy="440.8" r="1.7" fill="#000"/>
<circle cx="426.2" cy="457.6" r="1.7" fill="#000"/>
<circle cx="428.6" cy="449.2" r="1.7" fill="#000"/>
<circle cx="429.1" cy="455.7" r="1.7" fill="#000"/>
<circle cx="430.5" cy="454" r="1.7" fill="#000"/>
<circle cx="429.8" cy="442" r="1.7" fill="#000"/>
<circle cx="431" cy="463.6" r="1.7" fill="#000"/>
<circle cx="432.9" cy="474.4" r="1.7" fill="#000"/>
<circle cx="434.6" cy="455.2" r="1.7" fill="#000"/>
<circle cx="436.3" cy="470.8" r="1.7" fill="#000"/>
<circle cx="437" cy="461.7" r="1.7" fill="#000"/>
<circle cx="436.3" cy="449.2" r="1.7" fill="#000"/>
<circle cx="439.4" cy="458.8" r="1.7" fill="#000"/>
<circle cx="441.8" cy="451.6" r="1.7" fill="#000"/>
<circle cx="444.2" cy="465.5" r="1.7" fill="#000"/>
<circle cx="448.3" cy="458.1" r="1.7" fill="#000"/>
<circle cx="451.9" cy="459.3" r="1.7" fill="#000"/>
<circle cx="463.4" cy="436.7" r="1.7" fill="#000"/>
<circle cx="465.8" cy="432.4" r="1.7" fill="#000"/>
<circle cx="465.1" cy="449.2" r="1.7" fill="#000"/>
<circle cx="469.4" cy="439.6" r="1.7" fill="#000"/>
<circle cx="471.3" cy="452.8" r="1.7" fill="#000"/>
<circle cx="471.8" cy="420.9" r="1.7" fill="#000"/>
<circle cx="473.7" cy="433.6" r="1.7" fill="#000"/>
<circle cx="476.1" cy="454.5" r="1.7" fill="#000"/>
<circle cx="479" cy="437.2" r="1.7" fill="#000"/>
<circle cx="480.2" cy="413.2" r="1.7" fill="#000"/>
<circle cx="480.2" cy="407.2" r="1.7" fill="#000"/>
<circle cx="480.9" cy="437.7" r="1.7" fill="#000"/>
<circle cx="481.4" cy="422.1" r="1.7" fill="#000"/>
<circle cx="483.8" cy="448" r="1.7" fill="#000"/>
<circle cx="486.7" cy="432.9" r="1.7" fill="#000"/>
<circle cx="487.4" cy="425.7" r="1.7" fill="#000"/>
<circle cx="488.6" cy="454" r="1.7" fill="#000"/>
<circle cx="491" cy="440.8" r="1.7" fill="#000"/>
<circle cx="492.2" cy="449.2" r="1.7" fill="#000"/>
<circle cx="495.8" cy="454.7" r="1.7" fill="#000"/>
<circle cx="497.7" cy="454.5" r="1.7" fill="#000"/>
<circle cx="497" cy="446.8" r="1.7" fill="#000"/>
<circle cx="498.7" cy="448" r="1.7" fill="#000"/>
<circle cx="499.4" cy="428.3" r="1.7" fill="#000"/>
<circle cx="499.4" cy="433.1" r="1.7" fill="#000"/>
<path d="M479.6 392.6H485.4" stroke="#b52d4a" stroke-width="1"/>
<circle cx="481.6" cy="392.6" r="1.7" fill="#111"/>
<rect x="0.5" y="0.5" width="519" height="499" fill="none" stroke="#5a5a5a" stroke-width="1.05"/>
</svg></body></html>
